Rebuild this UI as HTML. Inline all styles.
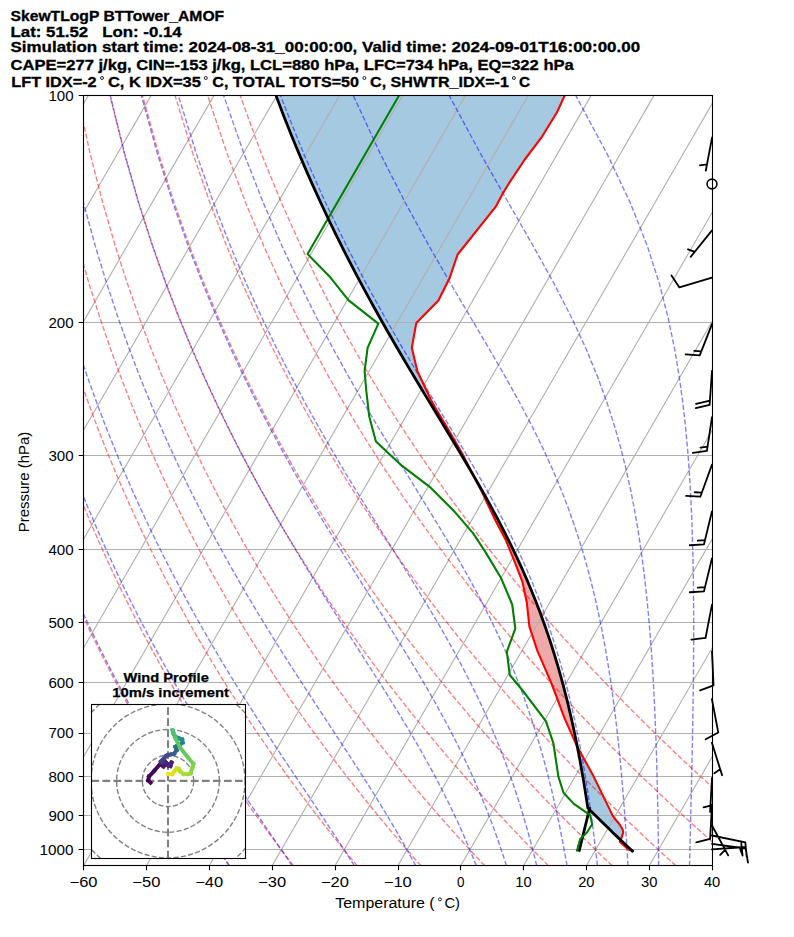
<!DOCTYPE html><html><head><meta charset="utf-8"><title>SkewT</title><style>html,body{margin:0;padding:0;background:#fff;overflow:hidden}svg{display:block}text{font-family:"Liberation Sans", sans-serif}</style></head><body><svg width="794" height="937" viewBox="0 0 794 937"><defs><clipPath id="ax"><rect x="83.50" y="95.85" width="628.60" height="769.96"/></clipPath><clipPath id="hx"><rect x="91.45" y="704.40" width="154.05" height="154.00"/></clipPath></defs><rect width="794" height="937" fill="#fff"/><g clip-path="url(#ax)"><path d="M472.89 474.55L473.05 474.85L473.31 475.35L473.57 475.85L473.83 476.35L474.1 476.85L474.36 477.35L474.62 477.85L474.88 478.35L475.15 478.85L475.41 479.35L475.67 479.85L475.93 480.35L476.2 480.85L476.46 481.35L476.72 481.85L476.98 482.35L477.25 482.85L477.51 483.35L477.77 483.85L478.03 484.35L478.3 484.85L478.56 485.35L478.82 485.85L479.08 486.35L479.35 486.85L479.61 487.35L479.87 487.85L480.13 488.35L480.4 488.85L480.66 489.35L480.92 489.85L481.17 490.35L481.4 490.85L481.64 491.35L481.88 491.85L482.11 492.35L482.35 492.85L482.59 493.35L482.82 493.85L483.06 494.35L483.3 494.85L483.53 495.35L483.77 495.85L484.01 496.35L484.24 496.85L484.48 497.35L484.72 497.85L484.95 498.35L485.19 498.85L485.43 499.35L485.66 499.85L485.9 500.35L486.14 500.85L486.37 501.35L486.61 501.85L486.85 502.35L487.08 502.85L487.32 503.35L487.56 503.85L487.79 504.35L488.03 504.85L488.27 505.35L488.5 505.85L488.74 506.35L488.98 506.85L489.21 507.35L489.45 507.85L489.69 508.35L489.92 508.85L490.16 509.35L490.4 509.85L490.63 510.35L490.87 510.85L491.11 511.35L491.34 511.85L491.58 512.35L491.82 512.85L492.05 513.35L492.29 513.85L492.53 514.35L492.76 514.85L493 515.35L493.24 515.85L493.47 516.35L493.71 516.85L493.95 517.35L494.18 517.85L494.42 518.35L494.66 518.85L494.89 519.35L495.13 519.85L495.39 520.35L495.65 520.85L495.92 521.35L496.18 521.85L496.45 522.35L496.71 522.85L496.98 523.35L497.24 523.85L497.51 524.35L497.77 524.85L498.04 525.35L498.3 525.85L498.57 526.35L498.83 526.85L499.1 527.35L499.36 527.85L499.63 528.35L499.89 528.85L500.16 529.35L500.42 529.85L500.69 530.35L500.95 530.85L501.22 531.35L501.48 531.85L501.75 532.35L502.01 532.85L502.28 533.35L502.54 533.85L502.81 534.35L503.07 534.85L503.34 535.35L503.6 535.85L503.87 536.35L504.13 536.85L504.4 537.35L504.66 537.85L504.93 538.35L505.19 538.85L505.46 539.35L505.72 539.85L505.94 540.35L506.15 540.85L506.35 541.35L506.56 541.85L506.76 542.35L506.97 542.85L507.17 543.35L507.37 543.85L507.58 544.35L507.78 544.85L507.99 545.35L508.19 545.85L508.4 546.35L508.6 546.85L508.8 547.35L509.01 547.85L509.21 548.35L509.42 548.85L509.62 549.35L509.83 549.85L510.03 550.35L510.24 550.85L510.44 551.35L510.64 551.85L510.85 552.35L511.05 552.85L511.26 553.35L511.46 553.85L511.67 554.35L511.87 554.85L512.08 555.35L512.28 555.85L512.48 556.35L512.69 556.85L512.89 557.35L513.1 557.85L513.3 558.35L513.49 558.85L513.69 559.35L513.89 559.85L514.08 560.35L514.28 560.85L514.47 561.35L514.67 561.85L514.87 562.35L515.06 562.85L515.26 563.35L515.46 563.85L515.65 564.35L515.85 564.85L516.04 565.35L516.24 565.85L516.44 566.35L516.63 566.85L516.83 567.35L517.02 567.85L517.22 568.35L517.42 568.85L517.61 569.35L517.81 569.85L518 570.35L518.2 570.85L518.4 571.35L518.59 571.85L518.79 572.35L518.99 572.85L519.18 573.35L519.38 573.85L519.57 574.35L519.77 574.85L519.97 575.35L520.16 575.85L520.36 576.35L520.55 576.85L520.75 577.35L520.95 577.85L521.14 578.35L521.34 578.85L521.54 579.35L521.73 579.85L521.93 580.35L522.12 580.85L522.31 581.35L522.42 581.85L522.52 582.35L522.63 582.85L522.74 583.35L522.84 583.85L522.95 584.35L523.05 584.85L523.16 585.35L523.27 585.85L523.37 586.35L523.48 586.85L523.58 587.35L523.69 587.85L523.8 588.35L523.9 588.85L524.01 589.35L524.11 589.85L524.22 590.35L524.33 590.85L524.43 591.35L524.54 591.85L524.65 592.35L524.75 592.85L524.86 593.35L524.96 593.85L525.07 594.35L525.18 594.85L525.28 595.35L525.39 595.85L525.49 596.35L525.6 596.85L525.71 597.35L525.81 597.85L525.92 598.35L526.03 598.85L526.13 599.35L526.24 599.85L526.34 600.35L526.45 600.85L526.56 601.35L526.66 601.85L526.77 602.35L526.84 602.85L526.89 603.35L526.95 603.85L527 604.35L527.05 604.85L527.11 605.35L527.16 605.85L527.22 606.35L527.27 606.85L527.32 607.35L527.38 607.85L527.43 608.35L527.49 608.85L527.54 609.35L527.59 609.85L527.65 610.35L527.7 610.85L527.75 611.35L527.81 611.85L527.86 612.35L527.92 612.85L527.97 613.35L528.02 613.85L528.08 614.35L528.13 614.85L528.19 615.35L528.24 615.85L528.29 616.35L528.35 616.85L528.4 617.35L528.46 617.85L528.51 618.35L528.56 618.85L528.62 619.35L528.67 619.85L528.73 620.35L528.78 620.85L528.83 621.35L528.89 621.85L528.94 622.35L529 622.85L529.05 623.35L529.1 623.85L529.16 624.35L529.21 624.85L529.27 625.35L529.32 625.85L529.37 626.35L529.48 626.85L529.65 627.35L529.81 627.85L529.98 628.35L530.14 628.85L530.31 629.35L530.47 629.85L530.64 630.35L530.8 630.85L530.97 631.35L531.14 631.85L531.3 632.35L531.47 632.85L531.63 633.35L531.8 633.85L531.96 634.35L532.13 634.85L532.29 635.35L532.46 635.85L532.62 636.35L532.79 636.85L532.95 637.35L533.12 637.85L533.28 638.35L533.45 638.85L533.61 639.35L533.78 639.85L533.95 640.35L534.11 640.85L534.28 641.35L534.44 641.85L534.61 642.35L534.77 642.85L534.94 643.35L535.1 643.85L535.27 644.35L535.43 644.85L535.6 645.35L535.76 645.85L535.93 646.35L536.09 646.85L536.26 647.35L536.42 647.85L536.59 648.35L536.76 648.85L536.92 649.35L537.09 649.85L537.25 650.35L537.42 650.85L537.64 651.35L537.85 651.85L538.07 652.35L538.29 652.85L538.5 653.35L538.72 653.85L538.93 654.35L539.15 654.85L539.37 655.35L539.58 655.85L539.8 656.35L540.02 656.85L540.23 657.35L540.45 657.85L540.66 658.35L540.88 658.85L541.1 659.35L541.31 659.85L541.53 660.35L541.75 660.85L541.96 661.35L542.18 661.85L542.39 662.35L542.61 662.85L542.83 663.35L543.04 663.85L543.26 664.35L543.47 664.85L543.69 665.35L543.91 665.85L544.12 666.35L544.34 666.85L544.56 667.35L544.77 667.85L544.99 668.35L545.2 668.85L545.42 669.35L545.64 669.85L545.85 670.35L546.07 670.85L546.28 671.35L546.5 671.85L546.72 672.35L546.93 672.85L547.15 673.35L547.37 673.85L547.58 674.35L547.8 674.85L548.01 675.35L548.23 675.85L548.45 676.35L548.66 676.85L548.88 677.35L549.09 677.85L549.31 678.35L549.53 678.85L549.74 679.35L549.96 679.85L550.18 680.35L550.39 680.85L550.6 681.35L550.79 681.85L550.99 682.35L551.19 682.85L551.38 683.35L551.58 683.85L551.78 684.35L551.97 684.85L552.17 685.35L552.37 685.85L552.56 686.35L552.76 686.85L552.96 687.35L553.15 687.85L553.35 688.35L553.55 688.85L553.74 689.35L553.94 689.85L554.13 690.35L554.32 690.85L554.5 691.35L554.69 691.85L554.88 692.35L555.06 692.85L555.25 693.35L555.43 693.85L555.62 694.35L555.81 694.85L555.99 695.35L556.18 695.85L556.36 696.35L556.55 696.85L556.74 697.35L556.92 697.85L557.11 698.35L557.3 698.85L557.48 699.35L557.67 699.85L557.85 700.35L558.04 700.85L558.23 701.35L558.41 701.85L558.6 702.35L558.78 702.85L558.97 703.35L559.16 703.85L559.34 704.35L559.53 704.85L559.72 705.35L559.9 705.85L560.09 706.35L560.27 706.85L560.46 707.35L560.65 707.85L560.83 708.35L561.02 708.85L561.2 709.35L561.39 709.85L561.58 710.35L561.76 710.85L561.95 711.35L562.14 711.85L562.32 712.35L562.51 712.85L562.69 713.35L562.88 713.85L563.07 714.35L563.25 714.85L563.44 715.35L563.62 715.85L563.81 716.35L564 716.85L564.18 717.35L564.37 717.85L564.57 718.35L564.79 718.85L565.01 719.35L565.23 719.85L565.46 720.35L565.68 720.85L565.9 721.35L566.12 721.85L566.35 722.35L566.57 722.85L566.79 723.35L567.01 723.85L567.24 724.35L567.46 724.85L567.68 725.35L567.9 725.85L568.13 726.35L568.35 726.85L568.57 727.35L568.79 727.85L569.02 728.35L569.24 728.85L569.46 729.35L569.68 729.85L569.9 730.35L570.13 730.85L570.35 731.35L570.57 731.85L570.79 732.35L571.02 732.85L571.24 733.35L571.46 733.85L571.68 734.35L571.91 734.85L572.13 735.35L572.35 735.85L572.57 736.35L572.8 736.85L573.02 737.35L573.24 737.85L573.46 738.35L573.69 738.85L573.91 739.35L574.13 739.85L574.35 740.35L574.58 740.85L574.8 741.35L575.02 741.85L575.24 742.35L575.47 742.85L575.69 743.35L575.91 743.85L576.13 744.35L576.36 744.85L576.58 745.35L576.85 745.85L577.12 746.35L577.33 746.73L577.33 746.73L577.26 746.35L577.16 745.85L577.06 745.35L576.96 744.85L576.86 744.35L576.76 743.85L576.66 743.35L576.56 742.85L576.46 742.35L576.36 741.85L576.26 741.35L576.15 740.85L576.05 740.35L575.95 739.85L575.85 739.35L575.75 738.85L575.64 738.35L575.54 737.85L575.44 737.35L575.33 736.85L575.23 736.35L575.13 735.85L575.02 735.35L574.92 734.85L574.82 734.35L574.71 733.85L574.6 733.35L574.5 732.85L574.39 732.35L574.29 731.85L574.18 731.35L574.08 730.85L573.97 730.35L573.86 729.85L573.75 729.35L573.65 728.85L573.54 728.35L573.43 727.85L573.32 727.35L573.21 726.85L573.11 726.35L573 725.85L572.89 725.35L572.78 724.85L572.67 724.35L572.56 723.85L572.45 723.35L572.34 722.85L572.23 722.35L572.12 721.85L572 721.35L571.89 720.85L571.78 720.35L571.67 719.85L571.56 719.35L571.44 718.85L571.33 718.35L571.22 717.85L571.1 717.35L570.99 716.85L570.88 716.35L570.76 715.85L570.65 715.35L570.53 714.85L570.42 714.35L570.3 713.85L570.18 713.35L570.07 712.85L569.95 712.35L569.84 711.85L569.72 711.35L569.6 710.85L569.48 710.35L569.37 709.85L569.25 709.35L569.13 708.85L569.01 708.35L568.89 707.85L568.77 707.35L568.65 706.85L568.53 706.35L568.41 705.85L568.29 705.35L568.17 704.85L568.05 704.35L567.93 703.85L567.81 703.35L567.69 702.85L567.56 702.35L567.44 701.85L567.32 701.35L567.19 700.85L567.07 700.35L566.95 699.85L566.82 699.35L566.7 698.85L566.58 698.35L566.45 697.85L566.32 697.35L566.2 696.85L566.07 696.35L565.95 695.85L565.82 695.35L565.69 694.85L565.57 694.35L565.44 693.85L565.31 693.35L565.18 692.85L565.06 692.35L564.93 691.85L564.8 691.35L564.67 690.85L564.54 690.35L564.41 689.85L564.28 689.35L564.15 688.85L564.02 688.35L563.89 687.85L563.75 687.35L563.62 686.85L563.49 686.35L563.36 685.85L563.23 685.35L563.09 684.85L562.96 684.35L562.82 683.85L562.69 683.35L562.56 682.85L562.42 682.35L562.29 681.85L562.15 681.35L562.02 680.85L561.88 680.35L561.74 679.85L561.61 679.35L561.47 678.85L561.33 678.35L561.2 677.85L561.06 677.35L560.92 676.85L560.78 676.35L560.64 675.85L560.5 675.35L560.36 674.85L560.22 674.35L560.08 673.85L559.94 673.35L559.8 672.85L559.66 672.35L559.51 671.85L559.37 671.35L559.23 670.85L559.09 670.35L558.94 669.85L558.8 669.35L558.66 668.85L558.51 668.35L558.37 667.85L558.22 667.35L558.08 666.85L557.93 666.35L557.79 665.85L557.64 665.35L557.49 664.85L557.35 664.35L557.2 663.85L557.05 663.35L556.9 662.85L556.76 662.35L556.61 661.85L556.46 661.35L556.31 660.85L556.16 660.35L556.01 659.85L555.86 659.35L555.71 658.85L555.56 658.35L555.4 657.85L555.25 657.35L555.1 656.85L554.95 656.35L554.79 655.85L554.64 655.35L554.49 654.85L554.33 654.35L554.18 653.85L554.02 653.35L553.87 652.85L553.71 652.35L553.56 651.85L553.4 651.35L553.24 650.85L553.08 650.35L552.93 649.85L552.77 649.35L552.61 648.85L552.45 648.35L552.29 647.85L552.14 647.35L551.97 646.85L551.81 646.35L551.65 645.85L551.49 645.35L551.33 644.85L551.17 644.35L551.01 643.85L550.85 643.35L550.68 642.85L550.52 642.35L550.35 641.85L550.19 641.35L550.03 640.85L549.86 640.35L549.7 639.85L549.53 639.35L549.37 638.85L549.2 638.35L549.03 637.85L548.86 637.35L548.7 636.85L548.53 636.35L548.36 635.85L548.2 635.35L548.03 634.85L547.85 634.35L547.68 633.85L547.51 633.35L547.34 632.85L547.17 632.35L547 631.85L546.83 631.35L546.66 630.85L546.49 630.35L546.31 629.85L546.14 629.35L545.96 628.85L545.79 628.35L545.62 627.85L545.44 627.35L545.27 626.85L545.09 626.35L544.91 625.85L544.74 625.35L544.56 624.85L544.38 624.35L544.21 623.85L544.03 623.35L543.85 622.85L543.67 622.35L543.49 621.85L543.31 621.35L543.13 620.85L542.95 620.35L542.77 619.85L542.59 619.35L542.41 618.85L542.23 618.35L542.04 617.85L541.86 617.35L541.67 616.85L541.49 616.35L541.3 615.85L541.12 615.35L540.94 614.85L540.75 614.35L540.57 613.85L540.38 613.35L540.19 612.85L540 612.35L539.81 611.85L539.63 611.35L539.44 610.85L539.25 610.35L539.06 609.85L538.87 609.35L538.68 608.85L538.49 608.35L538.3 607.85L538.11 607.35L537.91 606.85L537.72 606.35L537.53 605.85L537.34 605.35L537.15 604.85L536.95 604.35L536.76 603.85L536.56 603.35L536.36 602.85L536.17 602.35L535.97 601.85L535.78 601.35L535.58 600.85L535.39 600.35L535.19 599.85L534.99 599.35L534.79 598.85L534.59 598.35L534.39 597.85L534.19 597.35L533.99 596.85L533.79 596.35L533.59 595.85L533.39 595.35L533.18 594.85L532.98 594.35L532.78 593.85L532.57 593.35L532.37 592.85L532.17 592.35L531.97 591.85L531.76 591.35L531.56 590.85L531.35 590.35L531.14 589.85L530.93 589.35L530.73 588.85L530.52 588.35L530.31 587.85L530.1 587.35L529.9 586.85L529.69 586.35L529.48 585.85L529.27 585.35L529.05 584.85L528.84 584.35L528.63 583.85L528.42 583.35L528.21 582.85L528 582.35L527.78 581.85L527.57 581.35L527.36 580.85L527.14 580.35L526.92 579.85L526.71 579.35L526.49 578.85L526.28 578.35L526.06 577.85L525.85 577.35L525.63 576.85L525.41 576.35L525.19 575.85L524.97 575.35L524.75 574.85L524.53 574.35L524.31 573.85L524.09 573.35L523.87 572.85L523.65 572.35L523.43 571.85L523.21 571.35L522.98 570.85L522.76 570.35L522.54 569.85L522.31 569.35L522.09 568.85L521.86 568.35L521.64 567.85L521.41 567.35L521.19 566.85L520.96 566.35L520.73 565.85L520.51 565.35L520.28 564.85L520.05 564.35L519.82 563.85L519.59 563.35L519.36 562.85L519.13 562.35L518.91 561.85L518.68 561.35L518.44 560.85L518.21 560.35L517.98 559.85L517.74 559.35L517.51 558.85L517.28 558.35L517.05 557.85L516.81 557.35L516.58 556.85L516.35 556.35L516.11 555.85L515.87 555.35L515.63 554.85L515.4 554.35L515.16 553.85L514.92 553.35L514.68 552.85L514.45 552.35L514.21 551.85L513.97 551.35L513.73 550.85L513.49 550.35L513.25 549.85L513.01 549.35L512.77 548.85L512.52 548.35L512.28 547.85L512.04 547.35L511.8 546.85L511.56 546.35L511.32 545.85L511.07 545.35L510.82 544.85L510.58 544.35L510.33 543.85L510.09 543.35L509.84 542.85L509.59 542.35L509.35 541.85L509.1 541.35L508.85 540.85L508.61 540.35L508.36 539.85L508.11 539.35L507.86 538.85L507.61 538.35L507.36 537.85L507.11 537.35L506.86 536.85L506.61 536.35L506.35 535.85L506.1 535.35L505.85 534.85L505.6 534.35L505.35 533.85L505.09 533.35L504.84 532.85L504.58 532.35L504.33 531.85L504.07 531.35L503.82 530.85L503.56 530.35L503.31 529.85L503.05 529.35L502.79 528.85L502.53 528.35L502.28 527.85L502.02 527.35L501.76 526.85L501.5 526.35L501.24 525.85L500.98 525.35L500.72 524.85L500.46 524.35L500.2 523.85L499.94 523.35L499.68 522.85L499.42 522.35L499.15 521.85L498.89 521.35L498.62 520.85L498.36 520.35L498.1 519.85L497.83 519.35L497.57 518.85L497.31 518.35L497.04 517.85L496.78 517.35L496.51 516.85L496.24 516.35L495.98 515.85L495.71 515.35L495.44 514.85L495.17 514.35L494.9 513.85L494.64 513.35L494.37 512.85L494.1 512.35L493.83 511.85L493.57 511.35L493.29 510.85L493.02 510.35L492.75 509.85L492.48 509.35L492.21 508.85L491.93 508.35L491.66 507.85L491.39 507.35L491.12 506.85L490.85 506.35L490.58 505.85L490.3 505.35L490.03 504.85L489.75 504.35L489.48 503.85L489.2 503.35L488.93 502.85L488.65 502.35L488.37 501.85L488.1 501.35L487.82 500.85L487.55 500.35L487.27 499.85L486.99 499.35L486.72 498.85L486.44 498.35L486.16 497.85L485.88 497.35L485.6 496.85L485.32 496.35L485.04 495.85L484.76 495.35L484.48 494.85L484.2 494.35L483.92 493.85L483.64 493.35L483.36 492.85L483.08 492.35L482.8 491.85L482.51 491.35L482.23 490.85L481.95 490.35L481.66 489.85L481.38 489.35L481.1 488.85L480.82 488.35L480.53 487.85L480.25 487.35L479.97 486.85L479.68 486.35L479.4 485.85L479.11 485.35L478.82 484.85L478.54 484.35L478.25 483.85L477.96 483.35L477.68 482.85L477.39 482.35L477.1 481.85L476.82 481.35L476.53 480.85L476.24 480.35L475.96 479.85L475.67 479.35L475.38 478.85L475.09 478.35L474.8 477.85L474.51 477.35L474.22 476.85L473.93 476.35L473.64 475.85L473.35 475.35L473.06 474.85L472.89 474.55Z" fill="#d62728" fill-opacity="0.4"/><path d="M620.65 840.03L620.5 840.35L620.26 840.85L620.02 841.35L619.86 841.85L620.41 842.35L620.96 842.85L621.51 843.35L622.06 843.85L622.61 844.35L623.17 844.85L623.72 845.35L624.27 845.85L624.82 846.35L625.37 846.85L625.93 847.35L626.48 847.85L627.03 848.35L627.58 848.85L628.13 849.35L629.67 849.85L631.51 850.32L631.51 850.32L631.01 849.85L630.48 849.35L629.95 848.85L629.42 848.35L628.89 847.85L628.36 847.35L627.83 846.85L627.3 846.35L626.78 845.85L626.25 845.35L625.72 844.85L625.2 844.35L624.67 843.85L624.14 843.35L623.61 842.85L623.09 842.35L622.56 841.85L622.04 841.35L621.52 840.85L620.99 840.35L620.65 840.03Z" fill="#d62728" fill-opacity="0.4"/><path d="M564.58 95.85L564.35 96.35L564.12 96.85L563.89 97.35L563.66 97.85L563.42 98.35L563.19 98.85L562.96 99.35L562.73 99.85L562.5 100.35L562.26 100.85L562.03 101.35L561.8 101.85L561.57 102.35L561.34 102.85L561.11 103.35L560.87 103.85L560.64 104.35L560.41 104.85L560.18 105.35L559.95 105.85L559.71 106.35L559.48 106.85L559.25 107.35L559.02 107.85L558.79 108.35L558.55 108.85L558.32 109.35L558.09 109.85L557.86 110.35L557.63 110.85L557.39 111.35L557.16 111.85L556.91 112.35L556.6 112.85L556.29 113.35L555.99 113.85L555.68 114.35L555.37 114.85L555.07 115.35L554.76 115.85L554.45 116.35L554.15 116.85L553.84 117.35L553.53 117.85L553.23 118.35L552.92 118.85L552.61 119.35L552.3 119.85L552 120.35L551.69 120.85L551.38 121.35L551.08 121.85L550.77 122.35L550.46 122.85L550.16 123.35L549.85 123.85L549.54 124.35L549.24 124.85L548.93 125.35L548.62 125.85L548.31 126.35L548.01 126.85L547.7 127.35L547.39 127.85L547.09 128.35L546.78 128.85L546.47 129.35L546.17 129.85L545.86 130.35L545.55 130.85L545.25 131.35L544.94 131.85L544.63 132.35L544.32 132.85L544.02 133.35L543.71 133.85L543.4 134.35L543.1 134.85L542.79 135.35L542.48 135.85L542.18 136.35L541.86 136.85L541.49 137.35L541.11 137.85L540.73 138.35L540.36 138.85L539.98 139.35L539.6 139.85L539.23 140.35L538.85 140.85L538.47 141.35L538.1 141.85L537.72 142.35L537.34 142.85L536.97 143.35L536.59 143.85L536.21 144.35L535.84 144.85L535.46 145.35L535.08 145.85L534.71 146.35L534.33 146.85L533.95 147.35L533.58 147.85L533.2 148.35L532.82 148.85L532.45 149.35L532.07 149.85L531.69 150.35L531.32 150.85L530.94 151.35L530.56 151.85L530.19 152.35L529.81 152.85L529.43 153.35L529.06 153.85L528.68 154.35L528.3 154.85L527.93 155.35L527.55 155.85L527.17 156.35L526.8 156.85L526.42 157.35L526.04 157.85L525.67 158.35L525.29 158.85L524.91 159.35L524.57 159.85L524.23 160.35L523.9 160.85L523.57 161.35L523.24 161.85L522.9 162.35L522.57 162.85L522.24 163.35L521.91 163.85L521.57 164.35L521.24 164.85L520.91 165.35L520.58 165.85L520.24 166.35L519.91 166.85L519.58 167.35L519.24 167.85L518.91 168.35L518.58 168.85L518.25 169.35L517.91 169.85L517.58 170.35L517.25 170.85L516.92 171.35L516.58 171.85L516.25 172.35L515.92 172.85L515.59 173.35L515.25 173.85L514.92 174.35L514.59 174.85L514.26 175.35L513.92 175.85L513.59 176.35L513.26 176.85L512.92 177.35L512.59 177.85L512.26 178.35L511.93 178.85L511.59 179.35L511.26 179.85L510.93 180.35L510.6 180.85L510.26 181.35L509.93 181.85L509.6 182.35L509.27 182.85L508.93 183.35L508.61 183.85L508.31 184.35L508.01 184.85L507.7 185.35L507.4 185.85L507.1 186.35L506.8 186.85L506.5 187.35L506.19 187.85L505.89 188.35L505.59 188.85L505.29 189.35L504.99 189.85L504.68 190.35L504.38 190.85L504.08 191.35L503.78 191.85L503.48 192.35L503.17 192.85L502.87 193.35L502.57 193.85L502.31 194.35L502.04 194.85L501.77 195.35L501.5 195.85L501.24 196.35L500.97 196.85L500.7 197.35L500.44 197.85L500.17 198.35L499.9 198.85L499.63 199.35L499.37 199.85L499.1 200.35L498.83 200.85L498.57 201.35L498.3 201.85L498.03 202.35L497.76 202.85L497.5 203.35L497.23 203.85L496.96 204.35L496.7 204.85L496.43 205.35L496.16 205.85L495.89 206.35L495.63 206.85L495.24 207.35L494.84 207.85L494.44 208.35L494.04 208.85L493.64 209.35L493.24 209.85L492.85 210.35L492.45 210.85L492.05 211.35L491.65 211.85L491.25 212.35L490.85 212.85L490.45 213.35L490.05 213.85L489.65 214.35L489.25 214.85L488.85 215.35L488.46 215.85L488.06 216.35L487.66 216.85L487.26 217.35L486.86 217.85L486.46 218.35L486.06 218.85L485.66 219.35L485.26 219.85L484.86 220.35L484.46 220.85L484.06 221.35L483.67 221.85L483.27 222.35L482.87 222.85L482.47 223.35L482.07 223.85L481.67 224.35L481.27 224.85L480.87 225.35L480.47 225.85L480.07 226.35L479.67 226.85L479.27 227.35L478.88 227.85L478.48 228.35L478.08 228.85L477.68 229.35L477.28 229.85L476.88 230.35L476.48 230.85L476.08 231.35L475.68 231.85L475.28 232.35L474.88 232.85L474.48 233.35L474.09 233.85L473.69 234.35L473.29 234.85L472.89 235.35L472.49 235.85L472.09 236.35L471.69 236.85L471.29 237.35L470.89 237.85L470.49 238.35L470.09 238.85L469.69 239.35L469.3 239.85L468.9 240.35L468.5 240.85L468.1 241.35L467.7 241.85L467.3 242.35L466.9 242.85L466.5 243.35L466.1 243.85L465.7 244.35L465.3 244.85L464.9 245.35L464.51 245.85L464.11 246.35L463.71 246.85L463.31 247.35L462.91 247.85L462.51 248.35L462.11 248.85L461.71 249.35L461.31 249.85L460.91 250.35L460.51 250.85L460.11 251.35L459.72 251.85L459.32 252.35L458.92 252.85L458.52 253.35L458.12 253.85L457.72 254.35L457.48 254.85L457.31 255.35L457.14 255.85L456.97 256.35L456.8 256.85L456.63 257.35L456.46 257.85L456.29 258.35L456.12 258.85L455.95 259.35L455.78 259.85L455.61 260.35L455.44 260.85L455.27 261.35L455.1 261.85L454.93 262.35L454.76 262.85L454.59 263.35L454.42 263.85L454.25 264.35L454.08 264.85L453.91 265.35L453.74 265.85L453.57 266.35L453.4 266.85L453.23 267.35L453.06 267.85L452.89 268.35L452.72 268.85L452.55 269.35L452.38 269.85L452.21 270.35L452.04 270.85L451.87 271.35L451.7 271.85L451.52 272.35L451.35 272.85L451.18 273.35L451.01 273.85L450.84 274.35L450.67 274.85L450.5 275.35L450.33 275.85L450.16 276.35L449.99 276.85L449.82 277.35L449.65 277.85L449.47 278.35L449.22 278.85L448.97 279.35L448.72 279.85L448.47 280.35L448.22 280.85L447.97 281.35L447.72 281.85L447.47 282.35L447.22 282.85L446.97 283.35L446.72 283.85L446.47 284.35L446.22 284.85L445.97 285.35L445.72 285.85L445.47 286.35L445.22 286.85L444.97 287.35L444.72 287.85L444.47 288.35L444.22 288.85L443.97 289.35L443.72 289.85L443.47 290.35L443.22 290.85L442.97 291.35L442.72 291.85L442.47 292.35L442.22 292.85L441.97 293.35L441.72 293.85L441.47 294.35L441.22 294.85L440.97 295.35L440.72 295.85L440.47 296.35L440.22 296.85L439.97 297.35L439.72 297.85L439.47 298.35L439.22 298.85L438.97 299.35L438.72 299.85L438.47 300.35L438.06 300.85L437.57 301.35L437.07 301.85L436.58 302.35L436.09 302.85L435.6 303.35L435.11 303.85L434.62 304.35L434.13 304.85L433.64 305.35L433.15 305.85L432.65 306.35L432.16 306.85L431.67 307.35L431.18 307.85L430.69 308.35L430.2 308.85L429.71 309.35L429.22 309.85L428.73 310.35L428.23 310.85L427.74 311.35L427.25 311.85L426.76 312.35L426.27 312.85L425.78 313.35L425.29 313.85L424.8 314.35L424.31 314.85L423.81 315.35L423.32 315.85L422.83 316.35L422.34 316.85L421.85 317.35L421.36 317.85L420.87 318.35L420.38 318.85L419.89 319.35L419.39 319.85L418.9 320.35L418.41 320.85L417.92 321.35L417.43 321.85L416.94 322.35L416.45 322.85L416.24 323.35L416.15 323.85L416.06 324.35L415.96 324.85L415.87 325.35L415.78 325.85L415.69 326.35L415.6 326.85L415.51 327.35L415.42 327.85L415.33 328.35L415.24 328.85L415.15 329.35L415.06 329.85L414.97 330.35L414.88 330.85L414.78 331.35L414.69 331.85L414.6 332.35L414.51 332.85L414.42 333.35L414.33 333.85L414.24 334.35L414.15 334.85L414.06 335.35L413.97 335.85L413.88 336.35L413.79 336.85L413.7 337.35L413.61 337.85L413.51 338.35L413.42 338.85L413.33 339.35L413.24 339.85L413.15 340.35L413.06 340.85L412.97 341.35L412.88 341.85L412.79 342.35L412.7 342.85L412.61 343.35L412.52 343.85L412.43 344.35L412.34 344.85L412.24 345.35L412.15 345.85L412.06 346.35L411.97 346.85L411.88 347.35L411.81 347.85L411.93 348.35L412.05 348.85L412.17 349.35L412.29 349.85L412.4 350.35L412.52 350.85L412.64 351.35L412.76 351.85L412.88 352.35L413 352.85L413.12 353.35L413.23 353.85L413.35 354.35L413.47 354.85L413.59 355.35L413.71 355.85L413.83 356.35L413.95 356.85L414.06 357.35L414.18 357.85L414.3 358.35L414.42 358.85L414.54 359.35L414.66 359.85L414.78 360.35L414.89 360.85L415.01 361.35L415.13 361.85L415.25 362.35L415.37 362.85L415.49 363.35L415.6 363.85L415.72 364.35L415.84 364.85L415.96 365.35L416.08 365.85L416.2 366.35L416.32 366.85L416.43 367.35L416.55 367.85L416.67 368.35L416.79 368.85L416.91 369.35L417.03 369.85L417.15 370.35L417.26 370.85L417.47 371.35L417.7 371.85L417.94 372.35L418.17 372.85L418.41 373.35L418.65 373.85L418.88 374.35L419.12 374.85L419.36 375.35L419.59 375.85L419.83 376.35L420.06 376.85L420.3 377.35L420.54 377.85L420.77 378.35L421.01 378.85L421.24 379.35L421.48 379.85L421.72 380.35L421.95 380.85L422.19 381.35L422.43 381.85L422.66 382.35L422.9 382.85L423.13 383.35L423.37 383.85L423.61 384.35L423.84 384.85L424.08 385.35L424.32 385.85L424.55 386.35L424.79 386.85L425.02 387.35L425.26 387.85L425.5 388.35L425.73 388.85L425.97 389.35L426.21 389.85L426.44 390.35L426.68 390.85L426.91 391.35L427.15 391.85L427.39 392.35L427.62 392.85L427.86 393.35L428.09 393.85L428.33 394.35L428.57 394.85L428.8 395.35L429.04 395.85L429.28 396.35L429.51 396.85L429.75 397.35L429.98 397.85L430.22 398.35L430.46 398.85L430.69 399.35L430.93 399.85L431.2 400.35L431.48 400.85L431.76 401.35L432.04 401.85L432.32 402.35L432.6 402.85L432.88 403.35L433.16 403.85L433.44 404.35L433.72 404.85L434 405.35L434.28 405.85L434.56 406.35L434.84 406.85L435.12 407.35L435.4 407.85L435.68 408.35L435.96 408.85L436.24 409.35L436.52 409.85L436.81 410.35L437.12 410.85L437.42 411.35L437.72 411.85L438.03 412.35L438.33 412.85L438.63 413.35L438.94 413.85L439.24 414.35L439.54 414.85L439.85 415.35L440.15 415.85L440.45 416.35L440.76 416.85L441.06 417.35L441.36 417.85L441.67 418.35L441.97 418.85L442.27 419.35L442.58 419.85L442.88 420.35L443.18 420.85L443.49 421.35L443.79 421.85L444.09 422.35L444.4 422.85L444.7 423.35L445 423.85L445.31 424.35L445.61 424.85L445.9 425.35L446.19 425.85L446.48 426.35L446.77 426.85L447.06 427.35L447.35 427.85L447.64 428.35L447.93 428.85L448.22 429.35L448.51 429.85L448.8 430.35L449.09 430.85L449.38 431.35L449.67 431.85L449.96 432.35L450.25 432.85L450.54 433.35L450.83 433.85L451.12 434.35L451.41 434.85L451.7 435.35L451.99 435.85L452.28 436.35L452.57 436.85L452.86 437.35L453.15 437.85L453.44 438.35L453.73 438.85L454.02 439.35L454.31 439.85L454.6 440.35L454.89 440.85L455.17 441.35L455.46 441.85L455.75 442.35L456.03 442.85L456.32 443.35L456.61 443.85L456.89 444.35L457.18 444.85L457.47 445.35L457.75 445.85L458.04 446.35L458.33 446.85L458.61 447.35L458.9 447.85L459.19 448.35L459.47 448.85L459.76 449.35L460.05 449.85L460.33 450.35L460.62 450.85L460.91 451.35L461.19 451.85L461.48 452.35L461.77 452.85L462.05 453.35L462.34 453.85L462.63 454.35L462.91 454.85L463.18 455.35L463.43 455.85L463.68 456.35L463.93 456.85L464.18 457.35L464.43 457.85L464.68 458.35L464.93 458.85L465.18 459.35L465.43 459.85L465.68 460.35L465.93 460.85L466.18 461.35L466.43 461.85L466.68 462.35L466.93 462.85L467.18 463.35L467.43 463.85L467.68 464.35L467.93 464.85L468.18 465.35L468.43 465.85L468.68 466.35L468.93 466.85L469.18 467.35L469.43 467.85L469.68 468.35L469.93 468.85L470.18 469.35L470.43 469.85L470.68 470.35L470.95 470.85L471.21 471.35L471.47 471.85L471.73 472.35L472 472.85L472.26 473.35L472.52 473.85L472.78 474.35L472.89 474.55L472.89 474.55L472.77 474.35L472.48 473.85L472.19 473.35L471.9 472.85L471.61 472.35L471.32 471.85L471.03 471.35L470.73 470.85L470.44 470.35L470.15 469.85L469.86 469.35L469.56 468.85L469.27 468.35L468.98 467.85L468.69 467.35L468.39 466.85L468.1 466.35L467.81 465.85L467.51 465.35L467.22 464.85L466.92 464.35L466.63 463.85L466.33 463.35L466.04 462.85L465.74 462.35L465.45 461.85L465.15 461.35L464.86 460.85L464.56 460.35L464.27 459.85L463.97 459.35L463.67 458.85L463.38 458.35L463.08 457.85L462.78 457.35L462.48 456.85L462.19 456.35L461.89 455.85L461.59 455.35L461.29 454.85L461 454.35L460.7 453.85L460.4 453.35L460.11 452.85L459.81 452.35L459.51 451.85L459.21 451.35L458.91 450.85L458.61 450.35L458.31 449.85L458.01 449.35L457.71 448.85L457.42 448.35L457.12 447.85L456.82 447.35L456.52 446.85L456.22 446.35L455.92 445.85L455.62 445.35L455.32 444.85L455.02 444.35L454.72 443.85L454.42 443.35L454.12 442.85L453.82 442.35L453.52 441.85L453.22 441.35L452.91 440.85L452.61 440.35L452.31 439.85L452.01 439.35L451.71 438.85L451.41 438.35L451.11 437.85L450.81 437.35L450.51 436.85L450.2 436.35L449.9 435.85L449.6 435.35L449.3 434.85L449 434.35L448.69 433.85L448.39 433.35L448.09 432.85L447.79 432.35L447.49 431.85L447.18 431.35L446.88 430.85L446.58 430.35L446.28 429.85L445.98 429.35L445.67 428.85L445.37 428.35L445.07 427.85L444.77 427.35L444.46 426.85L444.16 426.35L443.86 425.85L443.55 425.35L443.25 424.85L442.95 424.35L442.65 423.85L442.34 423.35L442.04 422.85L441.74 422.35L441.43 421.85L441.13 421.35L440.83 420.85L440.52 420.35L440.22 419.85L439.92 419.35L439.62 418.85L439.31 418.35L439.01 417.85L438.71 417.35L438.4 416.85L438.1 416.35L437.8 415.85L437.49 415.35L437.19 414.85L436.89 414.35L436.58 413.85L436.28 413.35L435.98 412.85L435.67 412.35L435.37 411.85L435.07 411.35L434.76 410.85L434.46 410.35L434.16 409.85L433.85 409.35L433.55 408.85L433.25 408.35L432.95 407.85L432.64 407.35L432.34 406.85L432.04 406.35L431.73 405.85L431.43 405.35L431.13 404.85L430.82 404.35L430.52 403.85L430.22 403.35L429.92 402.85L429.61 402.35L429.31 401.85L429.01 401.35L428.71 400.85L428.4 400.35L428.1 399.85L427.8 399.35L427.49 398.85L427.19 398.35L426.89 397.85L426.59 397.35L426.28 396.85L425.98 396.35L425.68 395.85L425.38 395.35L425.08 394.85L424.78 394.35L424.47 393.85L424.17 393.35L423.87 392.85L423.57 392.35L423.27 391.85L422.96 391.35L422.66 390.85L422.36 390.35L422.06 389.85L421.76 389.35L421.46 388.85L421.15 388.35L420.85 387.85L420.55 387.35L420.25 386.85L419.95 386.35L419.65 385.85L419.35 385.35L419.05 384.85L418.75 384.35L418.45 383.85L418.15 383.35L417.85 382.85L417.55 382.35L417.25 381.85L416.95 381.35L416.65 380.85L416.35 380.35L416.05 379.85L415.74 379.35L415.45 378.85L415.15 378.35L414.85 377.85L414.55 377.35L414.25 376.85L413.95 376.35L413.65 375.85L413.35 375.35L413.06 374.85L412.76 374.35L412.46 373.85L412.16 373.35L411.86 372.85L411.56 372.35L411.26 371.85L410.96 371.35L410.67 370.85L410.37 370.35L410.07 369.85L409.77 369.35L409.48 368.85L409.18 368.35L408.88 367.85L408.59 367.35L408.29 366.85L407.99 366.35L407.7 365.85L407.4 365.35L407.1 364.85L406.81 364.35L406.51 363.85L406.21 363.35L405.92 362.85L405.62 362.35L405.32 361.85L405.03 361.35L404.73 360.85L404.44 360.35L404.14 359.85L403.85 359.35L403.55 358.85L403.26 358.35L402.97 357.85L402.67 357.35L402.38 356.85L402.08 356.35L401.79 355.85L401.5 355.35L401.2 354.85L400.91 354.35L400.61 353.85L400.32 353.35L400.03 352.85L399.73 352.35L399.44 351.85L399.14 351.35L398.85 350.85L398.56 350.35L398.27 349.85L397.98 349.35L397.69 348.85L397.4 348.35L397.1 347.85L396.81 347.35L396.52 346.85L396.23 346.35L395.94 345.85L395.65 345.35L395.36 344.85L395.07 344.35L394.78 343.85L394.48 343.35L394.19 342.85L393.9 342.35L393.61 341.85L393.32 341.35L393.03 340.85L392.74 340.35L392.46 339.85L392.17 339.35L391.88 338.85L391.59 338.35L391.3 337.85L391.02 337.35L390.73 336.85L390.44 336.35L390.15 335.85L389.87 335.35L389.58 334.85L389.29 334.35L389 333.85L388.71 333.35L388.43 332.85L388.14 332.35L387.85 331.85L387.56 331.35L387.28 330.85L386.99 330.35L386.71 329.85L386.42 329.35L386.14 328.85L385.86 328.35L385.57 327.85L385.29 327.35L385 326.85L384.72 326.35L384.44 325.85L384.15 325.35L383.87 324.85L383.58 324.35L383.3 323.85L383.01 323.35L382.73 322.85L382.45 322.35L382.16 321.85L381.88 321.35L381.59 320.85L381.31 320.35L381.03 319.85L380.75 319.35L380.47 318.85L380.19 318.35L379.91 317.85L379.63 317.35L379.35 316.85L379.07 316.35L378.79 315.85L378.51 315.35L378.23 314.85L377.95 314.35L377.67 313.85L377.39 313.35L377.11 312.85L376.83 312.35L376.55 311.85L376.27 311.35L375.99 310.85L375.71 310.35L375.43 309.85L375.15 309.35L374.87 308.85L374.6 308.35L374.32 307.85L374.05 307.35L373.77 306.85L373.49 306.35L373.22 305.85L372.94 305.35L372.67 304.85L372.39 304.35L372.12 303.85L371.84 303.35L371.57 302.85L371.29 302.35L371.01 301.85L370.74 301.35L370.46 300.85L370.19 300.35L369.91 299.85L369.64 299.35L369.36 298.85L369.09 298.35L368.81 297.85L368.54 297.35L368.27 296.85L368 296.35L367.73 295.85L367.45 295.35L367.18 294.85L366.91 294.35L366.64 293.85L366.37 293.35L366.1 292.85L365.83 292.35L365.56 291.85L365.29 291.35L365.02 290.85L364.75 290.35L364.48 289.85L364.2 289.35L363.93 288.85L363.66 288.35L363.39 287.85L363.12 287.35L362.85 286.85L362.58 286.35L362.31 285.85L362.04 285.35L361.78 284.85L361.51 284.35L361.25 283.85L360.98 283.35L360.72 282.85L360.45 282.35L360.18 281.85L359.92 281.35L359.65 280.85L359.39 280.35L359.12 279.85L358.86 279.35L358.59 278.85L358.32 278.35L358.06 277.85L357.79 277.35L357.53 276.85L357.26 276.35L357 275.85L356.73 275.35L356.46 274.85L356.2 274.35L355.93 273.85L355.67 273.35L355.41 272.85L355.15 272.35L354.89 271.85L354.63 271.35L354.37 270.85L354.11 270.35L353.85 269.85L353.59 269.35L353.33 268.85L353.07 268.35L352.81 267.85L352.55 267.35L352.28 266.85L352.02 266.35L351.76 265.85L351.5 265.35L351.24 264.85L350.98 264.35L350.72 263.85L350.46 263.35L350.2 262.85L349.94 262.35L349.68 261.85L349.42 261.35L349.16 260.85L348.91 260.35L348.65 259.85L348.4 259.35L348.14 258.85L347.89 258.35L347.63 257.85L347.38 257.35L347.12 256.85L346.87 256.35L346.61 255.85L346.36 255.35L346.11 254.85L345.85 254.35L345.6 253.85L345.34 253.35L345.09 252.85L344.83 252.35L344.58 251.85L344.32 251.35L344.07 250.85L343.81 250.35L343.56 249.85L343.3 249.35L343.05 248.85L342.79 248.35L342.54 247.85L342.29 247.35L342.04 246.85L341.79 246.35L341.54 245.85L341.29 245.35L341.04 244.85L340.8 244.35L340.55 243.85L340.3 243.35L340.05 242.85L339.8 242.35L339.55 241.85L339.3 241.35L339.06 240.85L338.81 240.35L338.56 239.85L338.31 239.35L338.06 238.85L337.81 238.35L337.56 237.85L337.31 237.35L337.07 236.85L336.82 236.35L336.57 235.85L336.32 235.35L336.07 234.85L335.82 234.35L335.57 233.85L335.33 233.35L335.09 232.85L334.85 232.35L334.6 231.85L334.36 231.35L334.12 230.85L333.88 230.35L333.63 229.85L333.39 229.35L333.15 228.85L332.91 228.35L332.66 227.85L332.42 227.35L332.18 226.85L331.94 226.35L331.69 225.85L331.45 225.35L331.21 224.85L330.97 224.35L330.72 223.85L330.48 223.35L330.24 222.85L330 222.35L329.75 221.85L329.51 221.35L329.27 220.85L329.03 220.35L328.78 219.85L328.54 219.35L328.31 218.85L328.07 218.35L327.84 217.85L327.6 217.35L327.36 216.85L327.13 216.35L326.89 215.85L326.66 215.35L326.42 214.85L326.18 214.35L325.95 213.85L325.71 213.35L325.48 212.85L325.24 212.35L325 211.85L324.77 211.35L324.53 210.85L324.3 210.35L324.06 209.85L323.82 209.35L323.59 208.85L323.35 208.35L323.12 207.85L322.88 207.35L322.64 206.85L322.41 206.35L322.17 205.85L321.94 205.35L321.7 204.85L321.47 204.35L321.24 203.85L321.01 203.35L320.78 202.85L320.55 202.35L320.32 201.85L320.09 201.35L319.86 200.85L319.63 200.35L319.4 199.85L319.18 199.35L318.95 198.85L318.72 198.35L318.49 197.85L318.26 197.35L318.03 196.85L317.8 196.35L317.57 195.85L317.34 195.35L317.11 194.85L316.88 194.35L316.65 193.85L316.43 193.35L316.2 192.85L315.97 192.35L315.74 191.85L315.51 191.35L315.28 190.85L315.05 190.35L314.82 189.85L314.59 189.35L314.36 188.85L314.14 188.35L313.92 187.85L313.69 187.35L313.47 186.85L313.25 186.35L313.03 185.85L312.81 185.35L312.58 184.85L312.36 184.35L312.14 183.85L311.92 183.35L311.7 182.85L311.47 182.35L311.25 181.85L311.03 181.35L310.81 180.85L310.59 180.35L310.36 179.85L310.14 179.35L309.92 178.85L309.7 178.35L309.48 177.85L309.25 177.35L309.03 176.85L308.81 176.35L308.59 175.85L308.37 175.35L308.14 174.85L307.92 174.35L307.7 173.85L307.48 173.35L307.26 172.85L307.03 172.35L306.82 171.85L306.6 171.35L306.39 170.85L306.17 170.35L305.96 169.85L305.74 169.35L305.53 168.85L305.31 168.35L305.1 167.85L304.89 167.35L304.67 166.85L304.46 166.35L304.24 165.85L304.03 165.35L303.81 164.85L303.6 164.35L303.38 163.85L303.17 163.35L302.95 162.85L302.74 162.35L302.52 161.85L302.31 161.35L302.1 160.85L301.88 160.35L301.67 159.85L301.45 159.35L301.24 158.85L301.02 158.35L300.81 157.85L300.59 157.35L300.38 156.85L300.16 156.35L299.95 155.85L299.74 155.35L299.52 154.85L299.31 154.35L299.1 153.85L298.9 153.35L298.69 152.85L298.48 152.35L298.28 151.85L298.07 151.35L297.86 150.85L297.66 150.35L297.45 149.85L297.24 149.35L297.04 148.85L296.83 148.35L296.62 147.85L296.42 147.35L296.21 146.85L296 146.35L295.79 145.85L295.59 145.35L295.38 144.85L295.17 144.35L294.97 143.85L294.76 143.35L294.55 142.85L294.35 142.35L294.14 141.85L293.93 141.35L293.73 140.85L293.52 140.35L293.31 139.85L293.11 139.35L292.9 138.85L292.69 138.35L292.49 137.85L292.28 137.35L292.07 136.85L291.87 136.35L291.66 135.85L291.47 135.35L291.27 134.85L291.07 134.35L290.87 133.85L290.67 133.35L290.47 132.85L290.27 132.35L290.07 131.85L289.88 131.35L289.68 130.85L289.48 130.35L289.28 129.85L289.08 129.35L288.88 128.85L288.68 128.35L288.48 127.85L288.29 127.35L288.09 126.85L287.89 126.35L287.69 125.85L287.49 125.35L287.29 124.85L287.09 124.35L286.89 123.85L286.7 123.35L286.5 122.85L286.3 122.35L286.1 121.85L285.9 121.35L285.7 120.85L285.5 120.35L285.3 119.85L285.11 119.35L284.91 118.85L284.71 118.35L284.51 117.85L284.31 117.35L284.11 116.85L283.92 116.35L283.73 115.85L283.54 115.35L283.35 114.85L283.16 114.35L282.97 113.85L282.78 113.35L282.59 112.85L282.4 112.35L282.21 111.85L282.02 111.35L281.83 110.85L281.64 110.35L281.45 109.85L281.26 109.35L281.06 108.85L280.87 108.35L280.68 107.85L280.49 107.35L280.3 106.85L280.11 106.35L279.92 105.85L279.73 105.35L279.54 104.85L279.35 104.35L279.16 103.85L278.97 103.35L278.78 102.85L278.59 102.35L278.4 101.85L278.21 101.35L278.02 100.85L277.83 100.35L277.64 99.85L277.45 99.35L277.26 98.85L277.07 98.35L276.88 97.85L276.69 97.35L276.5 96.85L276.31 96.35L276.12 95.85Z" fill="#1f77b4" fill-opacity="0.4"/><path d="M577.33 746.73L577.39 746.85L577.67 747.35L577.94 747.85L578.22 748.35L578.49 748.85L578.76 749.35L579.04 749.85L579.31 750.35L579.59 750.85L579.86 751.35L580.14 751.85L580.41 752.35L580.68 752.85L580.96 753.35L581.23 753.85L581.51 754.35L581.78 754.85L582.05 755.35L582.33 755.85L582.6 756.35L582.88 756.85L583.15 757.35L583.42 757.85L583.7 758.35L583.97 758.85L584.25 759.35L584.52 759.85L584.79 760.35L585.07 760.85L585.34 761.35L585.62 761.85L585.89 762.35L586.16 762.85L586.44 763.35L586.71 763.85L586.99 764.35L587.26 764.85L587.53 765.35L587.81 765.85L588.08 766.35L588.36 766.85L588.63 767.35L588.9 767.85L589.18 768.35L589.45 768.85L589.73 769.35L590 769.85L590.27 770.35L590.55 770.85L590.82 771.35L591.1 771.85L591.37 772.35L591.64 772.85L591.92 773.35L592.19 773.85L592.47 774.35L592.74 774.85L593.01 775.35L593.29 775.85L593.56 776.35L593.82 776.85L594.06 777.35L594.31 777.85L594.55 778.35L594.79 778.85L595.04 779.35L595.28 779.85L595.52 780.35L595.77 780.85L596.01 781.35L596.25 781.85L596.49 782.35L596.74 782.85L596.98 783.35L597.22 783.85L597.47 784.35L597.71 784.85L597.95 785.35L598.2 785.85L598.44 786.35L598.68 786.85L598.92 787.35L599.17 787.85L599.41 788.35L599.65 788.85L599.9 789.35L600.14 789.85L600.38 790.35L600.63 790.85L600.87 791.35L601.11 791.85L601.35 792.35L601.6 792.85L601.84 793.35L602.08 793.85L602.33 794.35L602.57 794.85L602.81 795.35L603.06 795.85L603.3 796.35L603.54 796.85L603.78 797.35L604.03 797.85L604.27 798.35L604.51 798.85L604.76 799.35L605 799.85L605.24 800.35L605.49 800.85L605.73 801.35L605.97 801.85L606.21 802.35L606.46 802.85L606.7 803.35L606.94 803.85L607.19 804.35L607.43 804.85L607.67 805.35L607.92 805.85L608.16 806.35L608.4 806.85L608.64 807.35L608.89 807.85L609.13 808.35L609.37 808.85L609.62 809.35L609.86 809.85L610.1 810.35L610.35 810.85L610.59 811.35L610.83 811.85L611.07 812.35L611.32 812.85L611.56 813.35L611.8 813.85L612.05 814.35L612.29 814.85L612.53 815.35L612.78 815.85L613.14 816.35L613.52 816.85L613.9 817.35L614.27 817.85L614.65 818.35L615.03 818.85L615.41 819.35L615.79 819.85L616.2 820.35L616.62 820.85L617.05 821.35L617.47 821.85L617.9 822.35L618.32 822.85L618.75 823.35L619.17 823.85L619.51 824.35L619.82 824.85L620.12 825.35L620.42 825.85L620.73 826.35L621.03 826.85L621.33 827.35L621.64 827.85L621.94 828.35L622.24 828.85L622.55 829.35L622.74 829.85L622.83 830.35L622.92 830.85L623 831.35L623.09 831.85L623.17 832.35L623.09 832.85L622.94 833.35L622.78 833.85L622.62 834.35L622.47 834.85L622.31 835.35L622.16 835.85L622 836.35L621.85 836.85L621.68 837.35L621.5 837.85L621.33 838.35L621.16 838.85L620.98 839.35L620.74 839.85L620.65 840.03L620.65 840.03L620.47 839.85L619.95 839.35L619.42 838.85L618.9 838.35L618.37 837.85L617.85 837.35L617.33 836.85L616.81 836.35L616.29 835.85L615.77 835.35L615.25 834.85L614.73 834.35L614.21 833.85L613.69 833.35L613.17 832.85L612.65 832.35L612.13 831.85L611.62 831.35L611.1 830.85L610.58 830.35L610.07 829.85L609.55 829.35L609.03 828.85L608.52 828.35L608 827.85L607.49 827.35L606.97 826.85L606.46 826.35L605.95 825.85L605.43 825.35L604.92 824.85L604.41 824.35L603.89 823.85L603.38 823.35L602.87 822.85L602.36 822.35L601.85 821.85L601.34 821.35L600.83 820.85L600.32 820.35L599.81 819.85L599.3 819.35L598.79 818.85L598.28 818.35L597.77 817.85L597.26 817.35L596.76 816.85L596.25 816.35L595.74 815.85L595.24 815.35L594.73 814.85L594.22 814.35L593.72 813.85L593.21 813.35L592.7 812.85L592.2 812.35L591.7 811.85L591.19 811.35L590.69 810.85L590.19 810.35L589.69 809.85L589.18 809.35L588.68 808.85L588.18 808.35L587.78 807.85L587.7 807.35L587.63 806.85L587.56 806.35L587.48 805.85L587.41 805.35L587.33 804.85L587.26 804.35L587.18 803.85L587.11 803.35L587.03 802.85L586.96 802.35L586.88 801.85L586.8 801.35L586.73 800.85L586.65 800.35L586.58 799.85L586.5 799.35L586.42 798.85L586.35 798.35L586.27 797.85L586.19 797.35L586.11 796.85L586.04 796.35L585.96 795.85L585.88 795.35L585.8 794.85L585.72 794.35L585.64 793.85L585.57 793.35L585.49 792.85L585.41 792.35L585.33 791.85L585.25 791.35L585.17 790.85L585.09 790.35L585.01 789.85L584.93 789.35L584.85 788.85L584.77 788.35L584.69 787.85L584.61 787.35L584.52 786.85L584.44 786.35L584.36 785.85L584.28 785.35L584.2 784.85L584.11 784.35L584.03 783.85L583.95 783.35L583.87 782.85L583.78 782.35L583.7 781.85L583.62 781.35L583.53 780.85L583.45 780.35L583.37 779.85L583.28 779.35L583.2 778.85L583.11 778.35L583.03 777.85L582.94 777.35L582.86 776.85L582.77 776.35L582.69 775.85L582.6 775.35L582.51 774.85L582.43 774.35L582.34 773.85L582.26 773.35L582.17 772.85L582.08 772.35L581.99 771.85L581.91 771.35L581.82 770.85L581.73 770.35L581.64 769.85L581.56 769.35L581.47 768.85L581.38 768.35L581.29 767.85L581.2 767.35L581.11 766.85L581.02 766.35L580.93 765.85L580.84 765.35L580.75 764.85L580.66 764.35L580.57 763.85L580.48 763.35L580.39 762.85L580.3 762.35L580.2 761.85L580.11 761.35L580.02 760.85L579.93 760.35L579.84 759.85L579.74 759.35L579.65 758.85L579.56 758.35L579.46 757.85L579.37 757.35L579.28 756.85L579.18 756.35L579.09 755.85L578.99 755.35L578.9 754.85L578.8 754.35L578.71 753.85L578.61 753.35L578.52 752.85L578.42 752.35L578.33 751.85L578.23 751.35L578.13 750.85L578.04 750.35L577.94 749.85L577.84 749.35L577.75 748.85L577.65 748.35L577.55 747.85L577.45 747.35L577.35 746.85L577.33 746.73Z" fill="#1f77b4" fill-opacity="0.4"/><path d="M631.51 850.32L631.62 850.35L632.6 850.85L632.6 851.14L632.38 851.14L632.07 850.85L631.54 850.35L631.51 850.32Z" fill="#1f77b4" fill-opacity="0.4"/><path d="M-356.52 865.81L88.02 95.85M-293.66 865.81L150.88 95.85M-230.8 865.81L213.74 95.85M-167.94 865.81L276.6 95.85M-105.08 865.81L339.46 95.85M-42.22 865.81L402.32 95.85M20.64 865.81L465.18 95.85M83.5 865.81L528.04 95.85M146.36 865.81L590.9 95.85M209.22 865.81L653.76 95.85M272.08 865.81L716.62 95.85M334.94 865.81L779.48 95.85M397.8 865.81L842.34 95.85M460.66 865.81L905.2 95.85M523.52 865.81L968.06 95.85M586.38 865.81L1030.92 95.85M649.24 865.81L1093.78 95.85M712.1 865.81L1156.64 95.85M83.5 95.5H712.1M83.5 322.5H712.1M83.5 455.5H712.1M83.5 549.5H712.1M83.5 622.5H712.1M83.5 682.5H712.1M83.5 733.5H712.1M83.5 776.5H712.1M83.5 815.5H712.1M83.5 849.5H712.1" stroke="#b0b0b0" stroke-width="1.11" fill="none"/><g fill="none" stroke-width="1.39" stroke-dasharray="5.14 2.22" stroke-opacity="0.5"><path d="M229.79 865.81L225.42 859.71L221.02 853.49L216.57 847.15L212.07 840.68L207.54 834.09L202.96 827.36L198.34 820.49L193.67 813.47L188.95 806.3L184.19 798.96L179.37 791.46L174.51 783.79L169.59 775.93L164.62 767.87L159.59 759.62L154.5 751.14L149.36 742.45L144.16 733.52L138.89 724.33L133.56 714.88L128.16 705.15L122.7 695.13L117.17 684.78L111.56 674.1L105.88 663.06L100.13 651.63L94.29 639.79L88.37 627.51L82.37 614.74L76.29 601.46L70.11 587.62L63.85 573.16L57.49 558.04L51.03 542.19L44.48 525.53L37.83 507.97L31.07 489.42L24.22 469.76L17.27 448.84L10.23 426.49L3.1 402.5L-4.11 376.62L-11.38 348.52L-18.67 317.77L-25.96 283.84L-33.17 245.97L-40.18 203.15L-46.81 153.88L-52.73 95.85" stroke="#f00"/><path d="M293.54 865.81L288.83 859.71L284.08 853.49L279.28 847.15L274.43 840.68L269.54 834.09L264.6 827.36L259.61 820.49L254.57 813.47L249.47 806.3L244.32 798.96L239.11 791.46L233.85 783.79L228.52 775.93L223.14 767.87L217.69 759.62L212.18 751.14L206.6 742.45L200.95 733.52L195.23 724.33L189.44 714.88L183.57 705.15L177.62 695.13L171.6 684.78L165.49 674.1L159.29 663.06L153 651.63L146.62 639.79L140.15 627.51L133.58 614.74L126.9 601.46L120.12 587.62L113.22 573.16L106.22 558.04L99.09 542.19L91.85 525.53L84.47 507.97L76.97 489.42L69.34 469.76L61.58 448.84L53.68 426.49L45.65 402.5L37.49 376.62L29.21 348.52L20.84 317.77L12.4 283.84L3.95 245.97L-4.42 203.15L-12.56 153.88L-20.17 95.85" stroke="#f00"/><path d="M357.28 865.81L352.23 859.71L347.14 853.49L341.99 847.15L336.79 840.68L331.54 834.09L326.24 827.36L320.88 820.49L315.46 813.47L309.99 806.3L304.45 798.96L298.85 791.46L293.19 783.79L287.46 775.93L281.66 767.87L275.79 759.62L269.85 751.14L263.83 742.45L257.74 733.52L251.57 724.33L245.31 714.88L238.97 705.15L232.54 695.13L226.02 684.78L219.41 674.1L212.7 663.06L205.88 651.63L198.96 639.79L191.92 627.51L184.78 614.74L177.51 601.46L170.12 587.62L162.6 573.16L154.95 558.04L147.15 542.19L139.21 525.53L131.12 507.97L122.87 489.42L114.46 469.76L105.88 448.84L97.12 426.49L88.19 402.5L79.08 376.62L69.8 348.52L60.35 317.77L50.76 283.84L41.06 245.97L31.33 203.15L21.69 153.88L12.38 95.85" stroke="#f00"/><path d="M421.02 865.81L415.64 859.71L410.2 853.49L404.7 847.15L399.15 840.68L393.55 834.09L387.88 827.36L382.15 820.49L376.36 813.47L370.5 806.3L364.58 798.96L358.59 791.46L352.53 783.79L346.39 775.93L340.18 767.87L333.89 759.62L327.52 751.14L321.07 742.45L314.54 733.52L307.91 724.33L301.19 714.88L294.38 705.15L287.47 695.13L280.45 684.78L273.33 674.1L266.1 663.06L258.76 651.63L251.29 639.79L243.7 627.51L235.98 614.74L228.12 601.46L220.13 587.62L211.98 573.16L203.68 558.04L195.21 542.19L186.58 525.53L177.77 507.97L168.77 489.42L159.58 469.76L150.18 448.84L140.57 426.49L130.74 402.5L120.68 376.62L110.39 348.52L99.87 317.77L89.12 283.84L78.18 245.97L67.08 203.15L55.94 153.88L44.94 95.85" stroke="#f00"/><path d="M484.76 865.81L479.04 859.71L473.26 853.49L467.42 847.15L461.51 840.68L455.55 834.09L449.52 827.36L443.42 820.49L437.26 813.47L431.02 806.3L424.71 798.96L418.33 791.46L411.87 783.79L405.33 775.93L398.7 767.87L391.99 759.62L385.2 751.14L378.31 742.45L371.33 733.52L364.25 724.33L357.07 714.88L349.78 705.15L342.39 695.13L334.88 684.78L327.26 674.1L319.51 663.06L311.63 651.63L303.62 639.79L295.48 627.51L287.18 614.74L278.74 601.46L270.13 587.62L261.36 573.16L252.41 558.04L243.28 542.19L233.95 525.53L224.42 507.97L214.67 489.42L204.69 469.76L194.48 448.84L184.02 426.49L173.29 402.5L162.28 376.62L150.98 348.52L139.38 317.77L127.48 283.84L115.29 245.97L102.84 203.15L90.19 153.88L77.5 95.85" stroke="#f00"/><path d="M548.51 865.81L542.44 859.71L536.32 853.49L530.13 847.15L523.87 840.68L517.55 834.09L511.16 827.36L504.69 820.49L498.15 813.47L491.54 806.3L484.84 798.96L478.07 791.46L471.21 783.79L464.26 775.93L457.22 767.87L450.09 759.62L442.87 751.14L435.55 742.45L428.12 733.52L420.59 724.33L412.95 714.88L405.19 705.15L397.31 695.13L389.31 684.78L381.18 674.1L372.92 663.06L364.51 651.63L355.96 639.79L347.25 627.51L338.38 614.74L329.35 601.46L320.13 587.62L310.74 573.16L301.14 558.04L291.34 542.19L281.32 525.53L271.06 507.97L260.57 489.42L249.81 469.76L238.78 448.84L227.46 426.49L215.83 402.5L203.87 376.62L191.57 348.52L178.9 317.77L165.85 283.84L152.41 245.97L138.59 203.15L124.43 153.88L110.06 95.85" stroke="#f00"/><path d="M612.25 865.81L605.85 859.71L599.38 853.49L592.84 847.15L586.24 840.68L579.55 834.09L572.8 827.36L565.96 820.49L559.05 813.47L552.05 806.3L544.97 798.96L537.8 791.46L530.55 783.79L523.19 775.93L515.75 767.87L508.2 759.62L500.54 751.14L492.79 742.45L484.92 733.52L476.93 724.33L468.82 714.88L460.59 705.15L452.23 695.13L443.74 684.78L435.11 674.1L426.32 663.06L417.39 651.63L408.29 639.79L399.03 627.51L389.59 614.74L379.96 601.46L370.14 587.62L360.11 573.16L349.87 558.04L339.4 542.19L328.68 525.53L317.71 507.97L306.47 489.42L294.93 469.76L283.09 448.84L270.91 426.49L258.38 402.5L245.47 376.62L232.16 348.52L218.41 317.77L204.21 283.84L189.52 245.97L174.34 203.15L158.68 153.88L142.62 95.85" stroke="#f00"/><path d="M675.99 865.81L669.25 859.71L662.44 853.49L655.56 847.15L648.6 840.68L641.56 834.09L634.44 827.36L627.23 820.49L619.95 813.47L612.57 806.3L605.1 798.96L597.54 791.46L589.89 783.79L582.13 775.93L574.27 767.87L566.3 759.62L558.22 751.14L550.02 742.45L541.71 733.52L533.27 724.33L524.7 714.88L516 705.15L507.16 695.13L498.17 684.78L489.03 674.1L479.73 663.06L470.27 651.63L460.63 639.79L450.8 627.51L440.79 614.74L430.57 601.46L420.14 587.62L409.49 573.16L398.6 558.04L387.46 542.19L376.05 525.53L364.36 507.97L352.37 489.42L340.05 469.76L327.39 448.84L314.36 426.49L300.93 402.5L287.07 376.62L272.75 348.52L257.93 317.77L242.57 283.84L226.64 245.97L210.1 203.15L192.93 153.88L175.18 95.85" stroke="#f00"/><path d="M739.73 865.81L732.66 859.71L725.5 853.49L718.27 847.15L710.96 840.68L703.56 834.09L696.08 827.36L688.51 820.49L680.84 813.47L673.09 806.3L665.24 798.96L657.28 791.46L649.23 783.79L641.06 775.93L632.79 767.87L624.4 759.62L615.89 751.14L607.26 742.45L598.5 733.52L589.61 724.33L580.58 714.88L571.4 705.15L562.08 695.13L552.6 684.78L542.95 674.1L533.14 663.06L523.14 651.63L512.96 639.79L502.58 627.51L491.99 614.74L481.19 601.46L470.15 587.62L458.87 573.16L447.33 558.04L435.52 542.19L423.42 525.53L411.01 507.97L398.26 489.42L385.17 469.76L371.69 448.84L357.8 426.49L343.47 402.5L328.66 376.62L313.33 348.52L297.44 317.77L280.93 283.84L263.75 245.97L245.85 203.15L227.18 153.88L207.73 95.85" stroke="#f00"/><path d="M803.47 865.81L796.06 859.71L788.56 853.49L780.98 847.15L773.32 840.68L765.56 834.09L757.72 827.36L749.78 820.49L741.74 813.47L733.61 806.3L725.37 798.96L717.02 791.46L708.57 783.79L700 775.93L691.31 767.87L682.5 759.62L673.57 751.14L664.5 742.45L655.3 733.52L645.95 724.33L636.46 714.88L626.81 705.15L617 695.13L607.03 684.78L596.88 674.1L586.54 663.06L576.02 651.63L565.29 639.79L554.35 627.51L543.19 614.74L531.8 601.46L520.15 587.62L508.25 573.16L496.06 558.04L483.58 542.19L470.79 525.53L457.65 507.97L444.16 489.42L430.28 469.76L415.99 448.84L401.25 426.49L386.02 402.5L370.26 376.62L353.92 348.52L336.95 317.77L319.29 283.84L300.87 245.97L281.6 203.15L261.43 153.88L240.29 95.85" stroke="#f00"/><path d="M229.23 865.81L225.09 859.71L220.9 853.49L216.65 847.15L212.34 840.68L207.96 834.09L203.54 827.36L199.05 820.49L194.5 813.47L189.89 806.3L185.22 798.96L180.49 791.46L175.7 783.79L170.84 775.93L165.92 767.87L160.94 759.62L155.9 751.14L150.79 742.45L145.61 733.52L140.36 724.33L135.05 714.88L129.66 705.15L124.2 695.13L118.67 684.78L113.07 674.1L107.38 663.06L101.62 651.63L95.78 639.79L89.85 627.51L83.84 614.74L77.74 601.46L71.55 587.62L65.26 573.16L58.89 558.04L52.41 542.19L45.84 525.53L39.17 507.97L32.4 489.42L25.52 469.76L18.55 448.84L11.48 426.49L4.33 402.5L-2.91 376.62L-10.21 348.52L-17.54 317.77L-24.86 283.84L-32.1 245.97L-39.15 203.15L-45.82 153.88L-51.79 95.85" stroke="#00f"/><path d="M292.17 865.81L288.02 859.71L283.79 853.49L279.48 847.15L275.08 840.68L270.61 834.09L266.05 827.36L261.4 820.49L256.68 813.47L251.87 806.3L246.98 798.96L242 791.46L236.95 783.79L231.8 775.93L226.58 767.87L221.27 759.62L215.87 751.14L210.39 742.45L204.83 733.52L199.17 724.33L193.43 714.88L187.6 705.15L181.68 695.13L175.67 684.78L169.57 674.1L163.37 663.06L157.07 651.63L150.67 639.79L144.17 627.51L137.57 614.74L130.86 601.46L124.04 587.62L117.1 573.16L110.05 558.04L102.88 542.19L95.58 525.53L88.15 507.97L80.6 489.42L72.9 469.76L65.07 448.84L57.11 426.49L49.01 402.5L40.77 376.62L32.42 348.52L23.96 317.77L15.43 283.84L6.88 245.97L-1.6 203.15L-9.86 153.88L-17.6 95.85" stroke="#00f"/><path d="M354.39 865.81L350.51 859.71L346.52 853.49L342.43 847.15L338.22 840.68L333.9 834.09L329.46 827.36L324.91 820.49L320.25 813.47L315.47 806.3L310.57 798.96L305.55 791.46L300.42 783.79L295.16 775.93L289.79 767.87L284.3 759.62L278.68 751.14L272.95 742.45L267.1 733.52L261.13 724.33L255.05 714.88L248.84 705.15L242.51 695.13L236.06 684.78L229.48 674.1L222.79 663.06L215.97 651.63L209.02 639.79L201.95 627.51L194.74 614.74L187.41 601.46L179.93 587.62L172.31 573.16L164.55 558.04L156.64 542.19L148.57 525.53L140.35 507.97L131.95 489.42L123.39 469.76L114.65 448.84L105.73 426.49L96.62 402.5L87.32 376.62L77.84 348.52L68.18 317.77L58.36 283.84L48.41 245.97L38.41 203.15L28.47 153.88L18.83 95.85" stroke="#00f"/><path d="M415.73 865.81L412.45 859.71L409.05 853.49L405.53 847.15L401.87 840.68L398.09 834.09L394.17 827.36L390.11 820.49L385.9 813.47L381.54 806.3L377.02 798.96L372.35 791.46L367.51 783.79L362.51 775.93L357.35 767.87L352.01 759.62L346.5 751.14L340.82 742.45L334.97 733.52L328.93 724.33L322.73 714.88L316.34 705.15L309.78 695.13L303.04 684.78L296.13 674.1L289.04 663.06L281.78 651.63L274.34 639.79L266.72 627.51L258.93 614.74L250.95 601.46L242.8 587.62L234.46 573.16L225.94 558.04L217.23 542.19L208.32 525.53L199.21 507.97L189.89 489.42L180.35 469.76L170.59 448.84L160.59 426.49L150.35 402.5L139.86 376.62L129.1 348.52L118.08 317.77L106.81 283.84L95.29 245.97L83.57 203.15L71.73 153.88L59.95 95.85" stroke="#00f"/><path d="M476.34 865.81L473.92 859.71L471.4 853.49L468.76 847.15L466.01 840.68L463.14 834.09L460.13 827.36L456.99 820.49L453.7 813.47L450.26 806.3L446.66 798.96L442.88 791.46L438.93 783.79L434.79 775.93L430.45 767.87L425.9 759.62L421.13 751.14L416.14 742.45L410.91 733.52L405.44 724.33L399.72 714.88L393.74 705.15L387.49 695.13L380.98 684.78L374.19 674.1L367.13 663.06L359.79 651.63L352.17 639.79L344.27 627.51L336.09 614.74L327.63 601.46L318.9 587.62L309.9 573.16L300.62 558.04L291.07 542.19L281.24 525.53L271.13 507.97L260.74 489.42L250.05 469.76L239.07 448.84L227.78 426.49L216.16 402.5L204.21 376.62L191.91 348.52L179.23 317.77L166.17 283.84L152.72 245.97L138.89 203.15L124.73 153.88L110.34 95.85" stroke="#00f"/><path d="M506.53 865.81L504.58 859.71L502.54 853.49L500.4 847.15L498.17 840.68L495.83 834.09L493.38 827.36L490.81 820.49L488.11 813.47L485.28 806.3L482.3 798.96L479.16 791.46L475.86 783.79L472.37 775.93L468.7 767.87L464.83 759.62L460.74 751.14L456.42 742.45L451.86 733.52L447.04 724.33L441.96 714.88L436.58 705.15L430.91 695.13L424.92 684.78L418.61 674.1L411.96 663.06L404.97 651.63L397.62 639.79L389.91 627.51L381.84 614.74L373.41 601.46L364.61 587.62L355.44 573.16L345.91 558.04L336.02 542.19L325.78 525.53L315.18 507.97L304.22 489.42L292.9 469.76L281.22 448.84L269.17 426.49L256.73 402.5L243.9 376.62L230.64 348.52L216.95 317.77L202.8 283.84L188.16 245.97L173.03 203.15L157.43 153.88L141.42 95.85" stroke="#00f"/><path d="M536.74 865.81L535.24 859.71L533.68 853.49L532.05 847.15L530.33 840.68L528.54 834.09L526.65 827.36L524.67 820.49L522.59 813.47L520.39 806.3L518.08 798.96L515.63 791.46L513.05 783.79L510.32 775.93L507.42 767.87L504.35 759.62L501.1 751.14L497.63 742.45L493.95 733.52L490.02 724.33L485.84 714.88L481.38 705.15L476.62 695.13L471.54 684.78L466.11 674.1L460.31 663.06L454.13 651.63L447.52 639.79L440.48 627.51L432.99 614.74L425.03 601.46L416.58 587.62L407.64 573.16L398.2 558.04L388.26 542.19L377.82 525.53L366.89 507.97L355.47 489.42L343.57 469.76L331.19 448.84L318.33 426.49L304.98 402.5L291.14 376.62L276.78 348.52L261.89 317.77L246.44 283.84L230.39 245.97L213.72 203.15L196.4 153.88L178.47 95.85" stroke="#00f"/><path d="M567.02 865.81L565.96 859.71L564.84 853.49L563.68 847.15L562.45 840.68L561.17 834.09L559.83 827.36L558.41 820.49L556.92 813.47L555.34 806.3L553.68 798.96L551.92 791.46L550.06 783.79L548.09 775.93L545.99 767.87L543.76 759.62L541.38 751.14L538.85 742.45L536.13 733.52L533.23 724.33L530.12 714.88L526.77 705.15L523.17 695.13L519.29 684.78L515.1 674.1L510.56 663.06L505.66 651.63L500.35 639.79L494.59 627.51L488.34 614.74L481.56 601.46L474.21 587.62L466.25 573.16L457.65 558.04L448.36 542.19L438.39 525.53L427.69 507.97L416.28 489.42L404.15 469.76L391.3 448.84L377.76 426.49L363.54 402.5L348.63 376.62L333.04 348.52L316.76 317.77L299.76 283.84L282 245.97L263.45 203.15L244.04 153.88L223.76 95.85" stroke="#00f"/><path d="M597.42 865.81L596.74 859.71L596.03 853.49L595.29 847.15L594.5 840.68L593.68 834.09L592.82 827.36L591.91 820.49L590.95 813.47L589.94 806.3L588.87 798.96L587.74 791.46L586.54 783.79L585.26 775.93L583.9 767.87L582.45 759.62L580.91 751.14L579.25 742.45L577.47 733.52L575.57 724.33L573.51 714.88L571.29 705.15L568.89 695.13L566.29 684.78L563.46 674.1L560.37 663.06L557 651.63L553.31 639.79L549.25 627.51L544.78 614.74L539.85 601.46L534.39 587.62L528.34 573.16L521.63 558.04L514.17 542.19L505.89 525.53L496.71 507.97L486.55 489.42L475.35 469.76L463.06 448.84L449.66 426.49L435.14 402.5L419.53 376.62L402.86 348.52L385.14 317.77L366.39 283.84L346.6 245.97L325.74 203.15L303.74 153.88L280.53 95.85" stroke="#00f"/><path d="M627.97 865.81L627.62 859.71L627.25 853.49L626.87 847.15L626.47 840.68L626.04 834.09L625.59 827.36L625.12 820.49L624.62 813.47L624.09 806.3L623.52 798.96L622.93 791.46L622.29 783.79L621.61 775.93L620.88 767.87L620.1 759.62L619.26 751.14L618.36 742.45L617.4 733.52L616.35 724.33L615.22 714.88L613.99 705.15L612.65 695.13L611.19 684.78L609.59 674.1L607.84 663.06L605.91 651.63L603.78 639.79L601.42 627.51L598.79 614.74L595.85 601.46L592.55 587.62L588.84 573.16L584.64 558.04L579.87 542.19L574.42 525.53L568.18 507.97L561.01 489.42L552.74 469.76L543.21 448.84L532.22 426.49L519.6 402.5L505.21 376.62L488.95 348.52L470.8 317.77L450.81 283.84L429.04 245.97L405.56 203.15L380.39 153.88L353.45 95.85" stroke="#00f"/><path d="M658.66 865.81L658.59 859.71L658.51 853.49L658.43 847.15L658.34 840.68L658.24 834.09L658.13 827.36L658.02 820.49L657.89 813.47L657.76 806.3L657.61 798.96L657.44 791.46L657.26 783.79L657.06 775.93L656.84 767.87L656.61 759.62L656.34 751.14L656.05 742.45L655.73 733.52L655.37 724.33L654.97 714.88L654.53 705.15L654.04 695.13L653.5 684.78L652.88 674.1L652.2 663.06L651.43 651.63L650.55 639.79L649.57 627.51L648.45 614.74L647.18 601.46L645.72 587.62L644.04 573.16L642.11 558.04L639.86 542.19L637.24 525.53L634.16 507.97L630.52 489.42L626.17 469.76L620.96 448.84L614.66 426.49L606.97 402.5L597.53 376.62L585.91 348.52L571.62 317.77L554.17 283.84L533.21 245.97L508.66 203.15L480.65 153.88L449.42 95.85" stroke="#00f"/><path d="M689.49 865.81L689.65 859.71L689.8 853.49L689.96 847.15L690.12 840.68L690.29 834.09L690.45 827.36L690.62 820.49L690.8 813.47L690.97 806.3L691.14 798.96L691.32 791.46L691.5 783.79L691.68 775.93L691.85 767.87L692.03 759.62L692.21 751.14L692.38 742.45L692.55 733.52L692.72 724.33L692.88 714.88L693.04 705.15L693.18 695.13L693.31 684.78L693.43 674.1L693.53 663.06L693.61 651.63L693.66 639.79L693.68 627.51L693.66 614.74L693.59 601.46L693.47 587.62L693.26 573.16L692.97 558.04L692.57 542.19L692.02 525.53L691.31 507.97L690.37 489.42L689.15 469.76L687.56 448.84L685.5 426.49L682.8 402.5L679.24 376.62L674.51 348.52L668.13 317.77L659.41 283.84L647.31 245.97L630.43 203.15L607.07 153.88L575.93 95.85" stroke="#00f"/><path d="M720.45 865.81L720.78 859.71L721.12 853.49L721.47 847.15L721.83 840.68L722.2 834.09L722.58 827.36L722.97 820.49L723.37 813.47L723.78 806.3L724.2 798.96L724.64 791.46L725.09 783.79L725.55 775.93L726.03 767.87L726.52 759.62L727.02 751.14L727.54 742.45L728.08 733.52L728.63 724.33L729.2 714.88L729.78 705.15L730.39 695.13L731.01 684.78L731.65 674.1L732.31 663.06L732.99 651.63L733.68 639.79L734.4 627.51L735.14 614.74L735.89 601.46L736.66 587.62L737.45 573.16L738.25 558.04L739.06 542.19L739.87 525.53L740.67 507.97L741.47 489.42L742.23 469.76L742.94 448.84L743.57 426.49L744.07 402.5L744.38 376.62L744.39 348.52L743.94 317.77L742.78 283.84L740.46 245.97L736.22 203.15L728.64 153.88L714.92 95.85" stroke="#00f"/><path d="M751.53 865.81L751.99 859.71L752.47 853.49L752.96 847.15L753.47 840.68L753.99 834.09L754.53 827.36L755.08 820.49L755.65 813.47L756.24 806.3L756.85 798.96L757.48 791.46L758.13 783.79L758.8 775.93L759.49 767.87L760.21 759.62L760.96 751.14L761.73 742.45L762.52 733.52L763.35 724.33L764.21 714.88L765.1 705.15L766.03 695.13L766.99 684.78L768 674.1L769.04 663.06L770.14 651.63L771.27 639.79L772.46 627.51L773.71 614.74L775.01 601.46L776.37 587.62L777.8 573.16L779.31 558.04L780.89 542.19L782.56 525.53L784.31 507.97L786.17 489.42L788.13 469.76L790.21 448.84L792.4 426.49L794.73 402.5L797.2 376.62L799.8 348.52L802.54 317.77L805.4 283.84L808.31 245.97L811.17 203.15L813.71 153.88L815.29 95.85" stroke="#00f"/><path d="M782.7 865.81L783.26 859.71L783.84 853.49L784.44 847.15L785.05 840.68L785.68 834.09L786.34 827.36L787.01 820.49L787.7 813.47L788.42 806.3L789.16 798.96L789.93 791.46L790.72 783.79L791.54 775.93L792.39 767.87L793.26 759.62L794.18 751.14L795.12 742.45L796.1 733.52L797.12 724.33L798.18 714.88L799.29 705.15L800.44 695.13L801.63 684.78L802.89 674.1L804.19 663.06L805.56 651.63L806.99 639.79L808.5 627.51L810.08 614.74L811.74 601.46L813.49 587.62L815.34 573.16L817.29 558.04L819.36 542.19L821.56 525.53L823.91 507.97L826.41 489.42L829.09 469.76L831.98 448.84L835.09 426.49L838.46 402.5L842.13 376.62L846.15 348.52L850.57 317.77L855.47 283.84L860.95 245.97L867.13 203.15L874.17 153.88L882.25 95.85" stroke="#00f"/></g><g fill="none" stroke-linejoin="round" stroke-linecap="square"><path d="M589.6 808.4L579.3 850.2" stroke="#000" stroke-width="2.78"/><path d="M564.7 95.6L557 112.2L541.9 136.8L524.8 159.5L508.7 183.7L502.6 193.8L495.6 206.9L457.6 254.5L449.5 278.3L438.4 300.5L416.3 323L411.8 347.8L417.3 371L431 400L436.6 410L445.7 425L454.4 440L463 455L470.5 470L481 490L488.1 505L495.2 520L505.8 540L513.2 558.1L522.3 581.3L526.8 602.5L529.4 626.6L537.4 650.8L550.5 681.1L554 690L564.5 718.2L576.6 745.4L593.7 776.6L612.8 815.9L615.9 820L619.3 824L622.7 829.6L623.2 832.5L621.8 837L621 839.3L619.8 841.8L628.3 849.5L632.6 850.6" stroke="#f00" stroke-width="2.08"/><path d="M399 95.6L307.6 254.1L330.3 277.3L348.4 300.1L378.3 323.6L367.6 347.8L364.6 371L366.2 390L369.2 416.2L375.9 441.4L400.5 464.6L430.7 487.7L453.9 510.9L473 533.1L484.1 550L489.1 558.1L501.2 578.3L512.2 604.5L515.3 628.7L506.8 651.8L509.8 675L522.2 690L545.9 721.2L553.4 743.4L558.4 776.6L563.5 792.8L573.9 803.9L590.1 815.2L592.2 824.2L587.1 832.2L580.2 839.1L577 850.5" stroke="#008000" stroke-width="2.08"/><path d="M632.38 851.14L627.58 846.61L622.75 842.03L617.87 837.37L612.96 832.65L608.01 827.86L603.02 823L597.99 818.07L592.91 813.06L587.8 807.97L587.43 805.52L587.06 803.06L586.69 800.57L586.3 798.07L585.91 795.54L585.51 793L585.1 790.44L584.69 787.86L584.26 785.25L583.83 782.63L583.39 779.98L582.94 777.31L582.48 774.62L582.01 771.91L581.52 769.18L581.03 766.42L580.53 763.64L580.02 760.83L579.49 758.01L578.96 755.15L578.41 752.27L577.85 749.37L577.27 746.44L576.69 743.48L576.08 740.5L575.47 737.49L574.84 734.45L574.19 731.38L573.53 728.29L572.85 725.16L572.15 722L571.44 718.82L570.7 715.6L569.95 712.35L569.18 709.07L568.39 705.75L567.58 702.4L566.74 699.02L565.88 695.6L565 692.14L564.1 688.65L563.17 685.12L562.21 681.55L561.22 677.94L560.21 674.29L559.16 670.61L558.09 666.87L556.98 663.1L555.84 659.28L554.66 655.42L553.45 651.51L552.2 647.55L550.91 643.55L549.58 639.49L548.21 635.39L546.79 631.23L545.33 627.02L543.82 622.75L542.25 618.43L540.64 614.05L538.97 609.61L537.25 605.11L535.46 600.54L533.62 595.92L531.71 591.22L529.73 586.46L527.69 581.63L525.57 576.72L523.38 571.74L521.12 566.68L518.77 561.55L516.34 556.33L513.82 551.03L511.21 545.64L508.51 540.16L505.72 534.59L502.83 528.92L499.84 523.15L496.74 517.27L493.54 511.29L490.22 505.2L486.8 498.99L483.26 492.67L479.61 486.22L475.83 479.63L471.94 472.92L467.93 466.06L463.8 459.06L459.54 451.9L455.16 444.58L450.66 437.1L446.03 429.44L441.28 421.6L436.41 413.56L431.42 405.33L426.3 396.88L421.07 388.21L415.71 379.3L410.24 370.14L404.65 360.72L398.95 351.01L393.13 341.02L387.19 330.71L381.14 320.06L374.98 309.05L368.71 297.66L362.32 285.87L355.81 273.63L349.19 260.91L342.45 247.68L335.6 233.9L328.62 219.51L321.51 204.45L314.28 188.67L306.92 172.09L299.43 154.63L291.8 136.19L284.03 116.64L276.12 95.85" stroke="#000" stroke-width="2.78"/></g></g><path d="M712.1 137.3L705.78 170.71M706.96 164.44L699.89 165.27M712 230.4L690.66 256.87M694.66 251.91L688.04 249.3M712 277.7L679.41 287.4M679.41 287.4L671.46 275.57M712.2 323.7L699.73 355.33M699.73 355.33L685.52 354.29M701.29 351.38L694.18 350.86M712 370.9L709.62 404.82M709.62 404.82L695.76 408.1M709.92 400.58L696.05 403.86M712 417.2L706.91 450.82M706.91 450.82L692.83 452.98M707.55 446.62L700.51 447.7M712 464.6L700.41 496.56M700.41 496.56L686.17 495.92M701.85 492.57L694.74 492.25M712 511.3L703.97 544.34M703.97 544.34L689.75 545.25M704.97 540.21L697.86 540.67M712 558.3L703.99 591.34M703.99 591.34L689.77 592.27M704.99 587.21L697.88 587.68M712 604.6L705.54 637.98M705.54 637.98L691.38 639.57M712 651.5L713.56 685.46M713.56 685.46L700.17 690.33M711.9 699.1L718.26 732.5M718.26 732.5L705.7 739.22M711.9 742.8L722.1 775.23M720.19 769.15L714.34 773.22M712 778L710.1 811.95M710.46 805.58L703.55 807.32M712 805L710.1 838.95M710.1 838.95L696.29 842.43M712 825.5L728.19 855.4M725.15 849.79L720.18 854.9M712 835.5L745.3 842.38M745.3 842.38L746.71 856.56M741.13 841.52L742.55 855.7M712 843.8L745.67 848.51M745.67 848.51L748 862.57M712 849.4L745.91 846.98M739.55 847.43L742.16 854.06" stroke="#000" stroke-width="1.8" fill="none" stroke-linecap="round" stroke-linejoin="round"/><circle cx="712" cy="184" r="4.9" stroke="#000" stroke-width="1.6" fill="none"/><rect x="83.5" y="95.5" width="629" height="770" fill="none" stroke="#000" stroke-width="1.11"/><path d="M78.64 95.50H83.50M78.64 322.50H83.50M78.64 455.50H83.50M78.64 549.50H83.50M78.64 622.50H83.50M78.64 682.50H83.50M78.64 733.50H83.50M78.64 776.50H83.50M78.64 815.50H83.50M78.64 849.50H83.50M83.50 865.50V870.36M146.50 865.50V870.36M209.50 865.50V870.36M272.50 865.50V870.36M335.50 865.50V870.36M398.50 865.50V870.36M460.50 865.50V870.36M523.50 865.50V870.36M586.50 865.50V870.36M649.50 865.50V870.36M712.50 865.50V870.36" stroke="#000" stroke-width="1.11"/><g font-size="14" fill="#000"><text x="73.6" y="101.15" text-anchor="end" textLength="25.2" lengthAdjust="spacingAndGlyphs">100</text><text x="73.6" y="328.12" text-anchor="end" textLength="25.2" lengthAdjust="spacingAndGlyphs">200</text><text x="73.6" y="460.89" text-anchor="end" textLength="25.2" lengthAdjust="spacingAndGlyphs">300</text><text x="73.6" y="555.09" text-anchor="end" textLength="25.2" lengthAdjust="spacingAndGlyphs">400</text><text x="73.6" y="628.16" text-anchor="end" textLength="25.2" lengthAdjust="spacingAndGlyphs">500</text><text x="73.6" y="687.86" text-anchor="end" textLength="25.2" lengthAdjust="spacingAndGlyphs">600</text><text x="73.6" y="738.34" text-anchor="end" textLength="25.2" lengthAdjust="spacingAndGlyphs">700</text><text x="73.6" y="782.06" text-anchor="end" textLength="25.2" lengthAdjust="spacingAndGlyphs">800</text><text x="73.6" y="820.63" text-anchor="end" textLength="25.2" lengthAdjust="spacingAndGlyphs">900</text><text x="73.6" y="855.13" text-anchor="end" textLength="34.0" lengthAdjust="spacingAndGlyphs">1000</text><text x="83.50" y="887.2" text-anchor="middle" textLength="28.0" lengthAdjust="spacingAndGlyphs">−60</text><text x="146.36" y="887.2" text-anchor="middle" textLength="28.0" lengthAdjust="spacingAndGlyphs">−50</text><text x="209.22" y="887.2" text-anchor="middle" textLength="28.0" lengthAdjust="spacingAndGlyphs">−40</text><text x="272.08" y="887.2" text-anchor="middle" textLength="28.0" lengthAdjust="spacingAndGlyphs">−30</text><text x="334.94" y="887.2" text-anchor="middle" textLength="28.0" lengthAdjust="spacingAndGlyphs">−20</text><text x="397.80" y="887.2" text-anchor="middle" textLength="28.0" lengthAdjust="spacingAndGlyphs">−10</text><text x="460.66" y="887.2" text-anchor="middle" textLength="7.5" lengthAdjust="spacingAndGlyphs">0</text><text x="523.52" y="887.2" text-anchor="middle" textLength="16.4" lengthAdjust="spacingAndGlyphs">10</text><text x="586.38" y="887.2" text-anchor="middle" textLength="16.4" lengthAdjust="spacingAndGlyphs">20</text><text x="649.24" y="887.2" text-anchor="middle" textLength="16.4" lengthAdjust="spacingAndGlyphs">30</text><text x="712.10" y="887.2" text-anchor="middle" textLength="16.4" lengthAdjust="spacingAndGlyphs">40</text></g><text x="335.2" y="907.7" font-size="14" textLength="99.5" lengthAdjust="spacingAndGlyphs">Temperature (</text><circle cx="439.90" cy="899.40" r="1.50" fill="none" stroke="#000" stroke-width="0.85"/><text x="444.4" y="907.7" font-size="14" textLength="15.6" lengthAdjust="spacingAndGlyphs">C)</text><text transform="translate(29.3 482) rotate(-90)" font-size="14" text-anchor="middle" textLength="100.3" lengthAdjust="spacingAndGlyphs">Pressure (hPa)</text><g font-size="14" font-weight="bold" fill="#000" stroke="#000" stroke-width="0.3"><text x="10.5" y="21.4" textLength="213.7" lengthAdjust="spacingAndGlyphs">SkewTLogP BTTower_AMOF</text><text x="10.5" y="37.2" textLength="171.2" lengthAdjust="spacingAndGlyphs">Lat: 51.52   Lon: -0.14</text><text x="10.5" y="52.4" textLength="629.6" lengthAdjust="spacingAndGlyphs">Simulation start time: 2024-08-31_00:00:00, Valid time: 2024-09-01T16:00:00.00</text><text x="10.5" y="69.9" textLength="563.3" lengthAdjust="spacingAndGlyphs">CAPE=277 j/kg, CIN=-153 j/kg, LCL=880 hPa, LFC=734 hPa, EQ=322 hPa</text><text x="11.3" y="86.6" textLength="85.3" lengthAdjust="spacingAndGlyphs">LFT IDX=-2</text><text x="107.9" y="86.6" textLength="93.1" lengthAdjust="spacingAndGlyphs">C, K IDX=35</text><text x="212.3" y="86.6" textLength="146.7" lengthAdjust="spacingAndGlyphs">C, TOTAL TOTS=50</text><text x="370.1" y="86.6" textLength="138.8" lengthAdjust="spacingAndGlyphs">C, SHWTR_IDX=-1</text><text x="518.9" y="86.6" textLength="11.1" lengthAdjust="spacingAndGlyphs">C</text></g><circle cx="102.00" cy="78.00" r="1.50" fill="none" stroke="#000" stroke-width="0.85"/><circle cx="205.80" cy="78.00" r="1.50" fill="none" stroke="#000" stroke-width="0.85"/><circle cx="364.40" cy="78.00" r="1.50" fill="none" stroke="#000" stroke-width="0.85"/><circle cx="513.90" cy="78.00" r="1.50" fill="none" stroke="#000" stroke-width="0.85"/><rect x="91.45" y="704.40" width="154.05" height="154.00" fill="#fff"/><g clip-path="url(#hx)" fill="none" stroke="#808080"><path d="M193.68 780.90A25.68 25.68 0 0 0 142.32 780.90A25.68 25.68 0 0 0 193.68 780.90" stroke-width="1.39" stroke-dasharray="5.14 2.22"/><path d="M219.35 780.90A51.35 51.35 0 0 0 116.65 780.90A51.35 51.35 0 0 0 219.35 780.90" stroke-width="1.39" stroke-dasharray="5.14 2.22"/><path d="M245.03 780.90A77.03 77.03 0 0 0 90.97 780.90A77.03 77.03 0 0 0 245.03 780.90" stroke-width="1.39" stroke-dasharray="5.14 2.22"/><path d="M270.70 780.90A102.70 102.70 0 0 0 65.30 780.90A102.70 102.70 0 0 0 270.70 780.90" stroke-width="1.39" stroke-dasharray="5.14 2.22"/><path d="M168.00 858.40V704.40" stroke-width="2.08" stroke-dasharray="7.71 3.33"/><path d="M91.45 780.90H245.50" stroke-width="2.08" stroke-dasharray="7.71 3.33"/></g><g fill="none" stroke-width="3.9" stroke-linecap="square"><path d="M150.50 782.70L148.20 780.40" stroke="#440154"/><path d="M148.20 780.40L149.00 776.50" stroke="#440154"/><path d="M149.00 776.50L154.50 770.50" stroke="#450559"/><path d="M154.50 770.50L160.10 764.10" stroke="#46085c"/><path d="M160.10 764.10L163.50 766.50" stroke="#471063"/><path d="M163.50 766.50L166.50 763.00" stroke="#48186a"/><path d="M166.50 763.00L170.50 766.00" stroke="#481b6d"/><path d="M170.50 766.00L171.50 762.50" stroke="#482071"/><path d="M171.50 762.50L168.00 765.50" stroke="#482374"/><path d="M168.00 765.50L165.00 761.50" stroke="#472777"/><path d="M165.00 761.50L162.00 762.50" stroke="#462b7a"/><path d="M162.00 762.50L161.00 761.30" stroke="#453581"/><path d="M161.00 761.30L163.00 759.30" stroke="#443983"/><path d="M163.00 759.30L166.50 755.70" stroke="#414487"/><path d="M166.50 755.70L170.10 754.70" stroke="#3e4c8a"/><path d="M170.10 754.70L174.10 753.70" stroke="#3b528b"/><path d="M174.10 753.70L176.60 750.20" stroke="#375b8d"/><path d="M176.60 750.20L175.30 746.90" stroke="#33638d"/><path d="M175.30 746.90L177.50 745.50" stroke="#2f6c8e"/><path d="M177.50 745.50L180.20 744.10" stroke="#2c728e"/><path d="M180.20 744.10L182.70 742.60" stroke="#297b8e"/><path d="M182.70 742.60L182.20 739.60" stroke="#25838e"/><path d="M182.20 739.60L178.60 738.10" stroke="#228c8d"/><path d="M178.60 738.10L175.10 736.60" stroke="#1f958b"/><path d="M175.10 736.60L173.50 733.50" stroke="#21a585"/><path d="M173.50 733.50L172.50 730.20" stroke="#2cb17e"/><path d="M172.50 730.20L175.60 738.60" stroke="#4ec36b"/><path d="M175.60 738.60L180.20 747.70" stroke="#5ac864"/><path d="M180.20 747.70L188.20 757.70" stroke="#60ca60"/><path d="M188.20 757.70L193.30 763.80" stroke="#6ccd5a"/><path d="M193.30 763.80L192.70 766.60" stroke="#7ad151"/><path d="M192.70 766.60L190.50 773.30" stroke="#84d44b"/><path d="M190.50 773.30L188.20 774.00" stroke="#95d840"/><path d="M188.20 774.00L183.60 774.00" stroke="#a2da37"/><path d="M183.60 774.00L180.10 771.20" stroke="#a8db34"/><path d="M180.10 771.20L178.80 769.00" stroke="#b5de2b"/><path d="M178.80 769.00L176.60 768.60" stroke="#c0df25"/><path d="M176.60 768.60L174.10 771.70" stroke="#cae11f"/><path d="M174.10 771.70L172.10 774.00" stroke="#d5e21a"/><path d="M172.10 774.00L169.50 774.00" stroke="#e0e318"/><path d="M169.50 774.00L168.20 774.00" stroke="#eae51a"/></g><rect x="91.5" y="704.5" width="154" height="154" fill="none" stroke="#000" stroke-width="1.11"/><g font-size="12.5" font-weight="bold" text-anchor="middle" stroke="#000" stroke-width="0.25"><text x="166.2" y="682.2" textLength="85.2" lengthAdjust="spacingAndGlyphs">Wind Profile</text><text x="170.6" y="696.7" textLength="116.5" lengthAdjust="spacingAndGlyphs">10m/s increment</text></g></svg></body></html>
